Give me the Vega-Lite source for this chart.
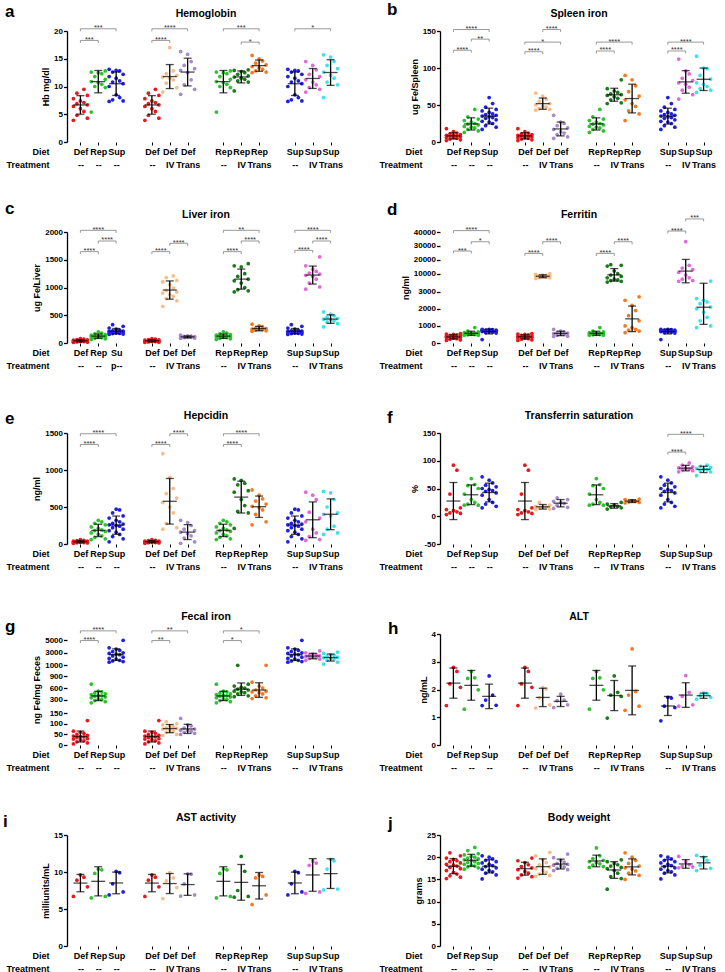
{
"$schema": "https://vega.github.io/schema/vega-lite/v6.json",
"padding": {"left": 3, "top": 0, "right": 0, "bottom": 0},
"background": "white",
"datasets": {
"pts": [
{"p":"a","g":"Def--","v":9.5},{"p":"a","g":"Def--","v":8.8},{"p":"a","g":"Def--","v":8.4},{"p":"a","g":"Def--","v":7.8},{"p":"a","g":"Def--","v":7.4},{"p":"a","g":"Def--","v":7.1},{"p":"a","g":"Def--","v":6.9},{"p":"a","g":"Def--","v":6.7},{"p":"a","g":"Def--","v":6.4},{"p":"a","g":"Def--","v":6.0},{"p":"a","g":"Def--","v":5.5},{"p":"a","g":"Def--","v":4.8},{"p":"a","g":"Def--","v":4.3},{"p":"a","g":"Def--","v":3.9},
{"p":"a","g":"Rep--","v":12.8},{"p":"a","g":"Rep--","v":12.6},{"p":"a","g":"Rep--","v":12.5},{"p":"a","g":"Rep--","v":12.3},{"p":"a","g":"Rep--","v":11.8},{"p":"a","g":"Rep--","v":11.3},{"p":"a","g":"Rep--","v":10.9},{"p":"a","g":"Rep--","v":10.7},{"p":"a","g":"Rep--","v":10.4},{"p":"a","g":"Rep--","v":10.0},{"p":"a","g":"Rep--","v":9.8},{"p":"a","g":"Rep--","v":5.4},
{"p":"a","g":"Sup--","v":13.1},{"p":"a","g":"Sup--","v":12.9},{"p":"a","g":"Sup--","v":12.8},{"p":"a","g":"Sup--","v":12.6},{"p":"a","g":"Sup--","v":12.2},{"p":"a","g":"Sup--","v":11.8},{"p":"a","g":"Sup--","v":11.5},{"p":"a","g":"Sup--","v":11.0},{"p":"a","g":"Sup--","v":10.8},{"p":"a","g":"Sup--","v":10.5},{"p":"a","g":"Sup--","v":10.0},{"p":"a","g":"Sup--","v":8.5},{"p":"a","g":"Sup--","v":8.0},{"p":"a","g":"Sup--","v":7.6},{"p":"a","g":"Sup--","v":7.4},{"p":"a","g":"Sup--","v":7.3},
{"p":"a","g":"DefIV","v":17.0},{"p":"a","g":"DefIV","v":12.8},{"p":"a","g":"DefIV","v":12.3},{"p":"a","g":"DefIV","v":12.0},{"p":"a","g":"DefIV","v":11.7},{"p":"a","g":"DefIV","v":11.5},{"p":"a","g":"DefIV","v":11.2},{"p":"a","g":"DefIV","v":10.6},{"p":"a","g":"DefIV","v":9.8},{"p":"a","g":"DefIV","v":9.0},
{"p":"a","g":"DefTrans","v":16.3},{"p":"a","g":"DefTrans","v":15.8},{"p":"a","g":"DefTrans","v":14.5},{"p":"a","g":"DefTrans","v":13.8},{"p":"a","g":"DefTrans","v":13.2},{"p":"a","g":"DefTrans","v":12.9},{"p":"a","g":"DefTrans","v":12.5},{"p":"a","g":"DefTrans","v":11.2},{"p":"a","g":"DefTrans","v":10.3},{"p":"a","g":"DefTrans","v":9.5},{"p":"a","g":"DefTrans","v":8.6},
{"p":"a","g":"RepIV","v":13.0},{"p":"a","g":"RepIV","v":12.9},{"p":"a","g":"RepIV","v":12.7},{"p":"a","g":"RepIV","v":12.5},{"p":"a","g":"RepIV","v":12.2},{"p":"a","g":"RepIV","v":11.9},{"p":"a","g":"RepIV","v":11.7},{"p":"a","g":"RepIV","v":11.5},{"p":"a","g":"RepIV","v":11.3},{"p":"a","g":"RepIV","v":11.0},{"p":"a","g":"RepIV","v":10.8},{"p":"a","g":"RepIV","v":9.2},
{"p":"a","g":"RepTrans","v":15.6},{"p":"a","g":"RepTrans","v":15.0},{"p":"a","g":"RepTrans","v":14.6},{"p":"a","g":"RepTrans","v":14.2},{"p":"a","g":"RepTrans","v":13.9},{"p":"a","g":"RepTrans","v":13.6},{"p":"a","g":"RepTrans","v":13.4},{"p":"a","g":"RepTrans","v":13.1},{"p":"a","g":"RepTrans","v":12.8},{"p":"a","g":"RepTrans","v":12.6},{"p":"a","g":"RepTrans","v":12.5},
{"p":"a","g":"SupIV","v":14.5},{"p":"a","g":"SupIV","v":13.8},{"p":"a","g":"SupIV","v":13.0},{"p":"a","g":"SupIV","v":12.2},{"p":"a","g":"SupIV","v":11.8},{"p":"a","g":"SupIV","v":11.2},{"p":"a","g":"SupIV","v":10.8},{"p":"a","g":"SupIV","v":10.3},{"p":"a","g":"SupIV","v":9.8},{"p":"a","g":"SupIV","v":9.5},{"p":"a","g":"SupIV","v":9.0},
{"p":"a","g":"SupTrans","v":15.7},{"p":"a","g":"SupTrans","v":15.3},{"p":"a","g":"SupTrans","v":14.5},{"p":"a","g":"SupTrans","v":13.8},{"p":"a","g":"SupTrans","v":13.2},{"p":"a","g":"SupTrans","v":12.6},{"p":"a","g":"SupTrans","v":12.0},{"p":"a","g":"SupTrans","v":11.5},{"p":"a","g":"SupTrans","v":10.8},{"p":"a","g":"SupTrans","v":10.3},{"p":"a","g":"SupTrans","v":8.0},

{"p":"b","g":"Def--","v":18},{"p":"b","g":"Def--","v":14},{"p":"b","g":"Def--","v":12},{"p":"b","g":"Def--","v":11},{"p":"b","g":"Def--","v":10},{"p":"b","g":"Def--","v":9},{"p":"b","g":"Def--","v":9},{"p":"b","g":"Def--","v":8},{"p":"b","g":"Def--","v":8},{"p":"b","g":"Def--","v":7},{"p":"b","g":"Def--","v":6},{"p":"b","g":"Def--","v":6},{"p":"b","g":"Def--","v":5},{"p":"b","g":"Def--","v":4},{"p":"b","g":"Def--","v":3},{"p":"b","g":"Def--","v":2},
{"p":"b","g":"Rep--","v":44},{"p":"b","g":"Rep--","v":34},{"p":"b","g":"Rep--","v":31},{"p":"b","g":"Rep--","v":29},{"p":"b","g":"Rep--","v":27},{"p":"b","g":"Rep--","v":25},{"p":"b","g":"Rep--","v":24},{"p":"b","g":"Rep--","v":23},{"p":"b","g":"Rep--","v":21},{"p":"b","g":"Rep--","v":20},{"p":"b","g":"Rep--","v":19},{"p":"b","g":"Rep--","v":17},{"p":"b","g":"Rep--","v":15},{"p":"b","g":"Rep--","v":13},
{"p":"b","g":"Sup--","v":60},{"p":"b","g":"Sup--","v":52},{"p":"b","g":"Sup--","v":47},{"p":"b","g":"Sup--","v":44},{"p":"b","g":"Sup--","v":42},{"p":"b","g":"Sup--","v":40},{"p":"b","g":"Sup--","v":38},{"p":"b","g":"Sup--","v":37},{"p":"b","g":"Sup--","v":36},{"p":"b","g":"Sup--","v":35},{"p":"b","g":"Sup--","v":34},{"p":"b","g":"Sup--","v":33},{"p":"b","g":"Sup--","v":32},{"p":"b","g":"Sup--","v":30},{"p":"b","g":"Sup--","v":28},{"p":"b","g":"Sup--","v":27},{"p":"b","g":"Sup--","v":25},{"p":"b","g":"Sup--","v":22},{"p":"b","g":"Sup--","v":20},{"p":"b","g":"Sup--","v":17},
{"p":"b","g":"DefIV","v":66},{"p":"b","g":"DefIV","v":62},{"p":"b","g":"DefIV","v":58},{"p":"b","g":"DefIV","v":55},{"p":"b","g":"DefIV","v":52},{"p":"b","g":"DefIV","v":50},{"p":"b","g":"DefIV","v":48},{"p":"b","g":"DefIV","v":47},{"p":"b","g":"DefIV","v":45},{"p":"b","g":"DefIV","v":44},{"p":"b","g":"DefIV","v":43},
{"p":"b","g":"DefTrans","v":36},{"p":"b","g":"DefTrans","v":27},{"p":"b","g":"DefTrans","v":25},{"p":"b","g":"DefTrans","v":22},{"p":"b","g":"DefTrans","v":19},{"p":"b","g":"DefTrans","v":17},{"p":"b","g":"DefTrans","v":14},{"p":"b","g":"DefTrans","v":12},{"p":"b","g":"DefTrans","v":10},{"p":"b","g":"DefTrans","v":7},{"p":"b","g":"DefTrans","v":5},
{"p":"b","g":"RepIV","v":84},{"p":"b","g":"RepIV","v":72},{"p":"b","g":"RepIV","v":69},{"p":"b","g":"RepIV","v":67},{"p":"b","g":"RepIV","v":65},{"p":"b","g":"RepIV","v":64},{"p":"b","g":"RepIV","v":63},{"p":"b","g":"RepIV","v":61},{"p":"b","g":"RepIV","v":59},{"p":"b","g":"RepIV","v":57},{"p":"b","g":"RepIV","v":53},{"p":"b","g":"RepIV","v":52},
{"p":"b","g":"RepTrans","v":90},{"p":"b","g":"RepTrans","v":84},{"p":"b","g":"RepTrans","v":76},{"p":"b","g":"RepTrans","v":68},{"p":"b","g":"RepTrans","v":62},{"p":"b","g":"RepTrans","v":57},{"p":"b","g":"RepTrans","v":52},{"p":"b","g":"RepTrans","v":48},{"p":"b","g":"RepTrans","v":42},{"p":"b","g":"RepTrans","v":38},{"p":"b","g":"RepTrans","v":29},
{"p":"b","g":"SupIV","v":112},{"p":"b","g":"SupIV","v":96},{"p":"b","g":"SupIV","v":92},{"p":"b","g":"SupIV","v":86},{"p":"b","g":"SupIV","v":83},{"p":"b","g":"SupIV","v":80},{"p":"b","g":"SupIV","v":78},{"p":"b","g":"SupIV","v":74},{"p":"b","g":"SupIV","v":70},{"p":"b","g":"SupIV","v":64},{"p":"b","g":"SupIV","v":58},
{"p":"b","g":"SupTrans","v":116},{"p":"b","g":"SupTrans","v":100},{"p":"b","g":"SupTrans","v":99},{"p":"b","g":"SupTrans","v":90},{"p":"b","g":"SupTrans","v":85},{"p":"b","g":"SupTrans","v":80},{"p":"b","g":"SupTrans","v":78},{"p":"b","g":"SupTrans","v":75},{"p":"b","g":"SupTrans","v":72},{"p":"b","g":"SupTrans","v":70},{"p":"b","g":"SupTrans","v":67},

{"p":"c","g":"Def--","v":80},{"p":"c","g":"Def--","v":70},{"p":"c","g":"Def--","v":60},{"p":"c","g":"Def--","v":55},{"p":"c","g":"Def--","v":50},{"p":"c","g":"Def--","v":45},{"p":"c","g":"Def--","v":40},{"p":"c","g":"Def--","v":38},{"p":"c","g":"Def--","v":35},{"p":"c","g":"Def--","v":30},{"p":"c","g":"Def--","v":28},{"p":"c","g":"Def--","v":25},{"p":"c","g":"Def--","v":20},{"p":"c","g":"Def--","v":15},{"p":"c","g":"Def--","v":10},
{"p":"c","g":"Rep--","v":200},{"p":"c","g":"Rep--","v":180},{"p":"c","g":"Rep--","v":165},{"p":"c","g":"Rep--","v":150},{"p":"c","g":"Rep--","v":140},{"p":"c","g":"Rep--","v":130},{"p":"c","g":"Rep--","v":125},{"p":"c","g":"Rep--","v":120},{"p":"c","g":"Rep--","v":115},{"p":"c","g":"Rep--","v":110},{"p":"c","g":"Rep--","v":100},{"p":"c","g":"Rep--","v":95},{"p":"c","g":"Rep--","v":85},{"p":"c","g":"Rep--","v":75},{"p":"c","g":"Rep--","v":65},
{"p":"c","g":"Sup--","v":330},{"p":"c","g":"Sup--","v":300},{"p":"c","g":"Sup--","v":270},{"p":"c","g":"Sup--","v":250},{"p":"c","g":"Sup--","v":230},{"p":"c","g":"Sup--","v":220},{"p":"c","g":"Sup--","v":215},{"p":"c","g":"Sup--","v":210},{"p":"c","g":"Sup--","v":205},{"p":"c","g":"Sup--","v":200},{"p":"c","g":"Sup--","v":195},{"p":"c","g":"Sup--","v":190},{"p":"c","g":"Sup--","v":185},{"p":"c","g":"Sup--","v":180},{"p":"c","g":"Sup--","v":175},{"p":"c","g":"Sup--","v":170},{"p":"c","g":"Sup--","v":160},{"p":"c","g":"Sup--","v":155},
{"p":"c","g":"DefIV","v":1210},{"p":"c","g":"DefIV","v":1180},{"p":"c","g":"DefIV","v":1130},{"p":"c","g":"DefIV","v":1100},{"p":"c","g":"DefIV","v":1050},{"p":"c","g":"DefIV","v":990},{"p":"c","g":"DefIV","v":950},{"p":"c","g":"DefIV","v":920},{"p":"c","g":"DefIV","v":900},{"p":"c","g":"DefIV","v":870},{"p":"c","g":"DefIV","v":840},{"p":"c","g":"DefIV","v":800},{"p":"c","g":"DefIV","v":760},{"p":"c","g":"DefIV","v":660},
{"p":"c","g":"DefTrans","v":140},{"p":"c","g":"DefTrans","v":130},{"p":"c","g":"DefTrans","v":125},{"p":"c","g":"DefTrans","v":120},{"p":"c","g":"DefTrans","v":115},{"p":"c","g":"DefTrans","v":110},{"p":"c","g":"DefTrans","v":105},{"p":"c","g":"DefTrans","v":100},{"p":"c","g":"DefTrans","v":95},{"p":"c","g":"DefTrans","v":90},{"p":"c","g":"DefTrans","v":85},
{"p":"c","g":"RepIV","v":1430},{"p":"c","g":"RepIV","v":1390},{"p":"c","g":"RepIV","v":1370},{"p":"c","g":"RepIV","v":1250},{"p":"c","g":"RepIV","v":1200},{"p":"c","g":"RepIV","v":1150},{"p":"c","g":"RepIV","v":1120},{"p":"c","g":"RepIV","v":1080},{"p":"c","g":"RepIV","v":1000},{"p":"c","g":"RepIV","v":960},{"p":"c","g":"RepIV","v":940},{"p":"c","g":"RepIV","v":920},
{"p":"c","g":"RepTrans","v":340},{"p":"c","g":"RepTrans","v":310},{"p":"c","g":"RepTrans","v":290},{"p":"c","g":"RepTrans","v":270},{"p":"c","g":"RepTrans","v":260},{"p":"c","g":"RepTrans","v":250},{"p":"c","g":"RepTrans","v":245},{"p":"c","g":"RepTrans","v":240},{"p":"c","g":"RepTrans","v":230},{"p":"c","g":"RepTrans","v":220},{"p":"c","g":"RepTrans","v":210},
{"p":"c","g":"SupIV","v":1550},{"p":"c","g":"SupIV","v":1390},{"p":"c","g":"SupIV","v":1330},{"p":"c","g":"SupIV","v":1290},{"p":"c","g":"SupIV","v":1260},{"p":"c","g":"SupIV","v":1240},{"p":"c","g":"SupIV","v":1220},{"p":"c","g":"SupIV","v":1200},{"p":"c","g":"SupIV","v":1150},{"p":"c","g":"SupIV","v":1080},{"p":"c","g":"SupIV","v":1010},{"p":"c","g":"SupIV","v":970},
{"p":"c","g":"SupTrans","v":560},{"p":"c","g":"SupTrans","v":520},{"p":"c","g":"SupTrans","v":490},{"p":"c","g":"SupTrans","v":460},{"p":"c","g":"SupTrans","v":440},{"p":"c","g":"SupTrans","v":430},{"p":"c","g":"SupTrans","v":420},{"p":"c","g":"SupTrans","v":400},{"p":"c","g":"SupTrans","v":380},{"p":"c","g":"SupTrans","v":350},{"p":"c","g":"SupTrans","v":290},

{"p":"d","g":"Def--","v":550},{"p":"d","g":"Def--","v":520},{"p":"d","g":"Def--","v":500},{"p":"d","g":"Def--","v":470},{"p":"d","g":"Def--","v":450},{"p":"d","g":"Def--","v":420},{"p":"d","g":"Def--","v":400},{"p":"d","g":"Def--","v":380},{"p":"d","g":"Def--","v":370},{"p":"d","g":"Def--","v":350},{"p":"d","g":"Def--","v":330},{"p":"d","g":"Def--","v":300},{"p":"d","g":"Def--","v":280},{"p":"d","g":"Def--","v":250},{"p":"d","g":"Def--","v":220},{"p":"d","g":"Def--","v":180},{"p":"d","g":"Def--","v":150},
{"p":"d","g":"Rep--","v":900},{"p":"d","g":"Rep--","v":700},{"p":"d","g":"Rep--","v":650},{"p":"d","g":"Rep--","v":600},{"p":"d","g":"Rep--","v":580},{"p":"d","g":"Rep--","v":560},{"p":"d","g":"Rep--","v":550},{"p":"d","g":"Rep--","v":540},{"p":"d","g":"Rep--","v":520},{"p":"d","g":"Rep--","v":500},{"p":"d","g":"Rep--","v":490},{"p":"d","g":"Rep--","v":480},{"p":"d","g":"Rep--","v":460},{"p":"d","g":"Rep--","v":450},
{"p":"d","g":"Sup--","v":800},{"p":"d","g":"Sup--","v":790},{"p":"d","g":"Sup--","v":780},{"p":"d","g":"Sup--","v":760},{"p":"d","g":"Sup--","v":750},{"p":"d","g":"Sup--","v":740},{"p":"d","g":"Sup--","v":720},{"p":"d","g":"Sup--","v":700},{"p":"d","g":"Sup--","v":690},{"p":"d","g":"Sup--","v":680},{"p":"d","g":"Sup--","v":670},{"p":"d","g":"Sup--","v":650},{"p":"d","g":"Sup--","v":630},{"p":"d","g":"Sup--","v":600},{"p":"d","g":"Sup--","v":580},{"p":"d","g":"Sup--","v":200},
{"p":"d","g":"DefIV","v":10000},{"p":"d","g":"DefIV","v":9500},{"p":"d","g":"DefIV","v":9000},{"p":"d","g":"DefIV","v":8700},{"p":"d","g":"DefIV","v":8500},{"p":"d","g":"DefIV","v":8200},{"p":"d","g":"DefIV","v":8000},{"p":"d","g":"DefIV","v":7800},{"p":"d","g":"DefIV","v":7500},{"p":"d","g":"DefIV","v":7200},{"p":"d","g":"DefIV","v":7000},{"p":"d","g":"DefIV","v":6500},
{"p":"d","g":"DefTrans","v":800},{"p":"d","g":"DefTrans","v":700},{"p":"d","g":"DefTrans","v":650},{"p":"d","g":"DefTrans","v":620},{"p":"d","g":"DefTrans","v":580},{"p":"d","g":"DefTrans","v":550},{"p":"d","g":"DefTrans","v":520},{"p":"d","g":"DefTrans","v":500},{"p":"d","g":"DefTrans","v":450},{"p":"d","g":"DefTrans","v":400},{"p":"d","g":"DefTrans","v":380},
{"p":"d","g":"RepIV","v":16500},{"p":"d","g":"RepIV","v":16000},{"p":"d","g":"RepIV","v":15500},{"p":"d","g":"RepIV","v":12000},{"p":"d","g":"RepIV","v":10000},{"p":"d","g":"RepIV","v":9000},{"p":"d","g":"RepIV","v":8000},{"p":"d","g":"RepIV","v":7000},{"p":"d","g":"RepIV","v":6000},{"p":"d","g":"RepIV","v":5500},{"p":"d","g":"RepIV","v":5000},{"p":"d","g":"RepIV","v":4500},{"p":"d","g":"RepIV","v":4000},
{"p":"d","g":"RepTrans","v":2700},{"p":"d","g":"RepTrans","v":2500},{"p":"d","g":"RepTrans","v":2200},{"p":"d","g":"RepTrans","v":1900},{"p":"d","g":"RepTrans","v":1600},{"p":"d","g":"RepTrans","v":1300},{"p":"d","g":"RepTrans","v":1000},{"p":"d","g":"RepTrans","v":900},{"p":"d","g":"RepTrans","v":800},{"p":"d","g":"RepTrans","v":750},{"p":"d","g":"RepTrans","v":700},{"p":"d","g":"RepTrans","v":600},
{"p":"d","g":"SupIV","v":33000},{"p":"d","g":"SupIV","v":16000},{"p":"d","g":"SupIV","v":14000},{"p":"d","g":"SupIV","v":13000},{"p":"d","g":"SupIV","v":11000},{"p":"d","g":"SupIV","v":9000},{"p":"d","g":"SupIV","v":7000},{"p":"d","g":"SupIV","v":6000},{"p":"d","g":"SupIV","v":5000},{"p":"d","g":"SupIV","v":4500},
{"p":"d","g":"SupTrans","v":4700},{"p":"d","g":"SupTrans","v":2600},{"p":"d","g":"SupTrans","v":2500},{"p":"d","g":"SupTrans","v":2400},{"p":"d","g":"SupTrans","v":2300},{"p":"d","g":"SupTrans","v":2100},{"p":"d","g":"SupTrans","v":2000},{"p":"d","g":"SupTrans","v":1800},{"p":"d","g":"SupTrans","v":1500},{"p":"d","g":"SupTrans","v":1300},{"p":"d","g":"SupTrans","v":1000},{"p":"d","g":"SupTrans","v":900},

{"p":"e","g":"Def--","v":60},{"p":"e","g":"Def--","v":50},{"p":"e","g":"Def--","v":45},{"p":"e","g":"Def--","v":40},{"p":"e","g":"Def--","v":38},{"p":"e","g":"Def--","v":35},{"p":"e","g":"Def--","v":32},{"p":"e","g":"Def--","v":30},{"p":"e","g":"Def--","v":28},{"p":"e","g":"Def--","v":25},{"p":"e","g":"Def--","v":22},{"p":"e","g":"Def--","v":20},{"p":"e","g":"Def--","v":18},{"p":"e","g":"Def--","v":15},{"p":"e","g":"Def--","v":10},
{"p":"e","g":"Rep--","v":320},{"p":"e","g":"Rep--","v":300},{"p":"e","g":"Rep--","v":280},{"p":"e","g":"Rep--","v":260},{"p":"e","g":"Rep--","v":230},{"p":"e","g":"Rep--","v":210},{"p":"e","g":"Rep--","v":190},{"p":"e","g":"Rep--","v":180},{"p":"e","g":"Rep--","v":170},{"p":"e","g":"Rep--","v":150},{"p":"e","g":"Rep--","v":130},{"p":"e","g":"Rep--","v":110},{"p":"e","g":"Rep--","v":90},{"p":"e","g":"Rep--","v":70},{"p":"e","g":"Rep--","v":60},
{"p":"e","g":"Sup--","v":470},{"p":"e","g":"Sup--","v":460},{"p":"e","g":"Sup--","v":420},{"p":"e","g":"Sup--","v":380},{"p":"e","g":"Sup--","v":350},{"p":"e","g":"Sup--","v":320},{"p":"e","g":"Sup--","v":300},{"p":"e","g":"Sup--","v":280},{"p":"e","g":"Sup--","v":270},{"p":"e","g":"Sup--","v":260},{"p":"e","g":"Sup--","v":250},{"p":"e","g":"Sup--","v":240},{"p":"e","g":"Sup--","v":220},{"p":"e","g":"Sup--","v":200},{"p":"e","g":"Sup--","v":180},{"p":"e","g":"Sup--","v":160},{"p":"e","g":"Sup--","v":130},{"p":"e","g":"Sup--","v":100},{"p":"e","g":"Sup--","v":70},{"p":"e","g":"Sup--","v":30},
{"p":"e","g":"DefIV","v":1220},{"p":"e","g":"DefIV","v":900},{"p":"e","g":"DefIV","v":750},{"p":"e","g":"DefIV","v":680},{"p":"e","g":"DefIV","v":620},{"p":"e","g":"DefIV","v":560},{"p":"e","g":"DefIV","v":500},{"p":"e","g":"DefIV","v":420},{"p":"e","g":"DefIV","v":280},{"p":"e","g":"DefIV","v":220},{"p":"e","g":"DefIV","v":200},
{"p":"e","g":"DefTrans","v":320},{"p":"e","g":"DefTrans","v":290},{"p":"e","g":"DefTrans","v":250},{"p":"e","g":"DefTrans","v":200},{"p":"e","g":"DefTrans","v":180},{"p":"e","g":"DefTrans","v":160},{"p":"e","g":"DefTrans","v":140},{"p":"e","g":"DefTrans","v":110},{"p":"e","g":"DefTrans","v":80},{"p":"e","g":"DefTrans","v":30},{"p":"e","g":"DefTrans","v":10},
{"p":"e","g":"RepIV","v":880},{"p":"e","g":"RepIV","v":860},{"p":"e","g":"RepIV","v":820},{"p":"e","g":"RepIV","v":800},{"p":"e","g":"RepIV","v":720},{"p":"e","g":"RepIV","v":700},{"p":"e","g":"RepIV","v":600},{"p":"e","g":"RepIV","v":520},{"p":"e","g":"RepIV","v":440},{"p":"e","g":"RepIV","v":420},{"p":"e","g":"RepIV","v":210},
{"p":"e","g":"RepTrans","v":730},{"p":"e","g":"RepTrans","v":660},{"p":"e","g":"RepTrans","v":610},{"p":"e","g":"RepTrans","v":580},{"p":"e","g":"RepTrans","v":540},{"p":"e","g":"RepTrans","v":510},{"p":"e","g":"RepTrans","v":490},{"p":"e","g":"RepTrans","v":460},{"p":"e","g":"RepTrans","v":400},{"p":"e","g":"RepTrans","v":300},{"p":"e","g":"RepTrans","v":260},
{"p":"e","g":"SupIV","v":700},{"p":"e","g":"SupIV","v":660},{"p":"e","g":"SupIV","v":600},{"p":"e","g":"SupIV","v":430},{"p":"e","g":"SupIV","v":350},{"p":"e","g":"SupIV","v":300},{"p":"e","g":"SupIV","v":200},{"p":"e","g":"SupIV","v":150},{"p":"e","g":"SupIV","v":100},{"p":"e","g":"SupIV","v":60},{"p":"e","g":"SupIV","v":50},
{"p":"e","g":"SupTrans","v":710},{"p":"e","g":"SupTrans","v":690},{"p":"e","g":"SupTrans","v":600},{"p":"e","g":"SupTrans","v":500},{"p":"e","g":"SupTrans","v":420},{"p":"e","g":"SupTrans","v":400},{"p":"e","g":"SupTrans","v":380},{"p":"e","g":"SupTrans","v":240},{"p":"e","g":"SupTrans","v":200},{"p":"e","g":"SupTrans","v":150},{"p":"e","g":"SupTrans","v":130},

{"p":"f","g":"Def--","v":92},{"p":"f","g":"Def--","v":83},{"p":"f","g":"Def--","v":40},{"p":"f","g":"Def--","v":15},{"p":"f","g":"Def--","v":12},{"p":"f","g":"Def--","v":10},{"p":"f","g":"Def--","v":8},{"p":"f","g":"Def--","v":6},{"p":"f","g":"Def--","v":5},{"p":"f","g":"Def--","v":3},
{"p":"f","g":"Rep--","v":68},{"p":"f","g":"Rep--","v":57},{"p":"f","g":"Rep--","v":55},{"p":"f","g":"Rep--","v":50},{"p":"f","g":"Rep--","v":40},{"p":"f","g":"Rep--","v":30},{"p":"f","g":"Rep--","v":25},{"p":"f","g":"Rep--","v":22},{"p":"f","g":"Rep--","v":20},{"p":"f","g":"Rep--","v":20},
{"p":"f","g":"Sup--","v":71},{"p":"f","g":"Sup--","v":65},{"p":"f","g":"Sup--","v":60},{"p":"f","g":"Sup--","v":56},{"p":"f","g":"Sup--","v":53},{"p":"f","g":"Sup--","v":50},{"p":"f","g":"Sup--","v":48},{"p":"f","g":"Sup--","v":46},{"p":"f","g":"Sup--","v":45},{"p":"f","g":"Sup--","v":42},{"p":"f","g":"Sup--","v":38},{"p":"f","g":"Sup--","v":30},{"p":"f","g":"Sup--","v":25},{"p":"f","g":"Sup--","v":22},{"p":"f","g":"Sup--","v":18},{"p":"f","g":"Sup--","v":15},
{"p":"f","g":"DefIV","v":25},{"p":"f","g":"DefIV","v":20},{"p":"f","g":"DefIV","v":18},{"p":"f","g":"DefIV","v":17},{"p":"f","g":"DefIV","v":16},{"p":"f","g":"DefIV","v":15},{"p":"f","g":"DefIV","v":13},{"p":"f","g":"DefIV","v":12},
{"p":"f","g":"DefTrans","v":33},{"p":"f","g":"DefTrans","v":30},{"p":"f","g":"DefTrans","v":27},{"p":"f","g":"DefTrans","v":25},{"p":"f","g":"DefTrans","v":23},{"p":"f","g":"DefTrans","v":20},{"p":"f","g":"DefTrans","v":16},{"p":"f","g":"DefTrans","v":14},
{"p":"f","g":"RepIV","v":25},{"p":"f","g":"RepIV","v":22},{"p":"f","g":"RepIV","v":20},{"p":"f","g":"RepIV","v":18},{"p":"f","g":"RepIV","v":17},{"p":"f","g":"RepIV","v":15},{"p":"f","g":"RepIV","v":13},
{"p":"f","g":"RepTrans","v":31},{"p":"f","g":"RepTrans","v":30},{"p":"f","g":"RepTrans","v":28},{"p":"f","g":"RepTrans","v":27},{"p":"f","g":"RepTrans","v":26},{"p":"f","g":"RepTrans","v":25},{"p":"f","g":"RepTrans","v":24},
{"p":"f","g":"SupIV","v":96},{"p":"f","g":"SupIV","v":92},{"p":"f","g":"SupIV","v":89},{"p":"f","g":"SupIV","v":87},{"p":"f","g":"SupIV","v":86},{"p":"f","g":"SupIV","v":85},{"p":"f","g":"SupIV","v":84},{"p":"f","g":"SupIV","v":82},{"p":"f","g":"SupIV","v":80},
{"p":"f","g":"SupTrans","v":92},{"p":"f","g":"SupTrans","v":90},{"p":"f","g":"SupTrans","v":88},{"p":"f","g":"SupTrans","v":86},{"p":"f","g":"SupTrans","v":85},{"p":"f","g":"SupTrans","v":84},{"p":"f","g":"SupTrans","v":82},{"p":"f","g":"SupTrans","v":80},{"p":"f","g":"SupTrans","v":73},

{"p":"g","g":"Def--","v":115},{"p":"g","g":"Def--","v":65},{"p":"g","g":"Def--","v":60},{"p":"g","g":"Def--","v":55},{"p":"g","g":"Def--","v":50},{"p":"g","g":"Def--","v":45},{"p":"g","g":"Def--","v":42},{"p":"g","g":"Def--","v":40},{"p":"g","g":"Def--","v":38},{"p":"g","g":"Def--","v":35},{"p":"g","g":"Def--","v":30},{"p":"g","g":"Def--","v":28},{"p":"g","g":"Def--","v":25},{"p":"g","g":"Def--","v":20},{"p":"g","g":"Def--","v":15},{"p":"g","g":"Def--","v":10},{"p":"g","g":"Def--","v":5},
{"p":"g","g":"Rep--","v":700},{"p":"g","g":"Rep--","v":520},{"p":"g","g":"Rep--","v":500},{"p":"g","g":"Rep--","v":470},{"p":"g","g":"Rep--","v":450},{"p":"g","g":"Rep--","v":430},{"p":"g","g":"Rep--","v":410},{"p":"g","g":"Rep--","v":400},{"p":"g","g":"Rep--","v":390},{"p":"g","g":"Rep--","v":370},{"p":"g","g":"Rep--","v":350},{"p":"g","g":"Rep--","v":320},{"p":"g","g":"Rep--","v":300},{"p":"g","g":"Rep--","v":280},{"p":"g","g":"Rep--","v":250},{"p":"g","g":"Rep--","v":220},
{"p":"g","g":"Sup--","v":5000},{"p":"g","g":"Sup--","v":3800},{"p":"g","g":"Sup--","v":3600},{"p":"g","g":"Sup--","v":3400},{"p":"g","g":"Sup--","v":3200},{"p":"g","g":"Sup--","v":3000},{"p":"g","g":"Sup--","v":2900},{"p":"g","g":"Sup--","v":2800},{"p":"g","g":"Sup--","v":2700},{"p":"g","g":"Sup--","v":2500},{"p":"g","g":"Sup--","v":2300},{"p":"g","g":"Sup--","v":2100},{"p":"g","g":"Sup--","v":2000},{"p":"g","g":"Sup--","v":1800},{"p":"g","g":"Sup--","v":1700},{"p":"g","g":"Sup--","v":1600},{"p":"g","g":"Sup--","v":1500},
{"p":"g","g":"DefIV","v":110},{"p":"g","g":"DefIV","v":100},{"p":"g","g":"DefIV","v":95},{"p":"g","g":"DefIV","v":90},{"p":"g","g":"DefIV","v":85},{"p":"g","g":"DefIV","v":80},{"p":"g","g":"DefIV","v":78},{"p":"g","g":"DefIV","v":75},{"p":"g","g":"DefIV","v":70},{"p":"g","g":"DefIV","v":65},{"p":"g","g":"DefIV","v":60},{"p":"g","g":"DefIV","v":50},{"p":"g","g":"DefIV","v":45},
{"p":"g","g":"DefTrans","v":125},{"p":"g","g":"DefTrans","v":95},{"p":"g","g":"DefTrans","v":90},{"p":"g","g":"DefTrans","v":80},{"p":"g","g":"DefTrans","v":75},{"p":"g","g":"DefTrans","v":70},{"p":"g","g":"DefTrans","v":68},{"p":"g","g":"DefTrans","v":65},{"p":"g","g":"DefTrans","v":60},{"p":"g","g":"DefTrans","v":55},{"p":"g","g":"DefTrans","v":50},
{"p":"g","g":"RepIV","v":1000},{"p":"g","g":"RepIV","v":700},{"p":"g","g":"RepIV","v":650},{"p":"g","g":"RepIV","v":620},{"p":"g","g":"RepIV","v":600},{"p":"g","g":"RepIV","v":570},{"p":"g","g":"RepIV","v":550},{"p":"g","g":"RepIV","v":520},{"p":"g","g":"RepIV","v":500},{"p":"g","g":"RepIV","v":480},{"p":"g","g":"RepIV","v":450},{"p":"g","g":"RepIV","v":400},{"p":"g","g":"RepIV","v":380},
{"p":"g","g":"RepTrans","v":1000},{"p":"g","g":"RepTrans","v":750},{"p":"g","g":"RepTrans","v":650},{"p":"g","g":"RepTrans","v":600},{"p":"g","g":"RepTrans","v":550},{"p":"g","g":"RepTrans","v":520},{"p":"g","g":"RepTrans","v":500},{"p":"g","g":"RepTrans","v":480},{"p":"g","g":"RepTrans","v":450},{"p":"g","g":"RepTrans","v":400},{"p":"g","g":"RepTrans","v":350},{"p":"g","g":"RepTrans","v":330},
{"p":"g","g":"SupIV","v":3300},{"p":"g","g":"SupIV","v":3000},{"p":"g","g":"SupIV","v":2800},{"p":"g","g":"SupIV","v":2700},{"p":"g","g":"SupIV","v":2600},{"p":"g","g":"SupIV","v":2500},{"p":"g","g":"SupIV","v":2400},{"p":"g","g":"SupIV","v":2300},{"p":"g","g":"SupIV","v":2200},{"p":"g","g":"SupIV","v":2100},{"p":"g","g":"SupIV","v":2000},{"p":"g","g":"SupIV","v":1800},
{"p":"g","g":"SupTrans","v":3100},{"p":"g","g":"SupTrans","v":2900},{"p":"g","g":"SupTrans","v":2700},{"p":"g","g":"SupTrans","v":2600},{"p":"g","g":"SupTrans","v":2400},{"p":"g","g":"SupTrans","v":2300},{"p":"g","g":"SupTrans","v":2200},{"p":"g","g":"SupTrans","v":2100},{"p":"g","g":"SupTrans","v":2000},{"p":"g","g":"SupTrans","v":1800},{"p":"g","g":"SupTrans","v":1500},{"p":"g","g":"SupTrans","v":1200},

{"p":"h","g":"Def--","v":2.8},{"p":"h","g":"Def--","v":2.65},{"p":"h","g":"Def--","v":2.2},{"p":"h","g":"Def--","v":2.08},{"p":"h","g":"Def--","v":1.42},
{"p":"h","g":"Rep--","v":2.65},{"p":"h","g":"Rep--","v":2.42},{"p":"h","g":"Rep--","v":2.4},{"p":"h","g":"Rep--","v":1.99},{"p":"h","g":"Rep--","v":1.29},
{"p":"h","s":"A","g":"Sup--","v":2.49},{"p":"h","s":"A","g":"Sup--","v":1.8},{"p":"h","s":"A","g":"Sup--","v":1.62},{"p":"h","s":"A","g":"Sup--","v":1.43},{"p":"h","s":"A","g":"Sup--","v":1.42},
{"p":"h","s":"Sup","g":"Sup--","v":1.72},{"p":"h","s":"Sup","g":"Sup--","v":1.69},{"p":"h","s":"Sup","g":"Sup--","v":1.4},{"p":"h","s":"Sup","g":"Sup--","v":1.35},{"p":"h","s":"Sup","g":"Sup--","v":0.87},
{"p":"h","g":"DefIV","v":2.07},{"p":"h","g":"DefIV","v":2.02},{"p":"h","g":"DefIV","v":1.7},{"p":"h","g":"DefIV","v":1.45},{"p":"h","g":"DefIV","v":1.33},
{"p":"h","g":"DefTrans","v":1.83},{"p":"h","g":"DefTrans","v":1.62},{"p":"h","g":"DefTrans","v":1.6},{"p":"h","g":"DefTrans","v":1.45},{"p":"h","g":"DefTrans","v":1.35},
{"p":"h","g":"RepIV","v":2.49},{"p":"h","g":"RepIV","v":1.9},{"p":"h","g":"RepIV","v":1.8},{"p":"h","g":"RepIV","v":1.75},{"p":"h","g":"RepIV","v":0.97},
{"p":"h","g":"RepTrans","v":3.46},{"p":"h","g":"RepTrans","v":1.93},{"p":"h","g":"RepTrans","v":1.8},{"p":"h","g":"RepTrans","v":1.4},{"p":"h","g":"RepTrans","v":1.25},
{"p":"h","g":"SupIV","v":2.5},{"p":"h","g":"SupIV","v":1.9},{"p":"h","g":"SupIV","v":1.75},{"p":"h","g":"SupIV","v":1.45},{"p":"h","g":"SupIV","v":1.4},
{"p":"h","g":"SupTrans","v":1.88},{"p":"h","g":"SupTrans","v":1.85},{"p":"h","g":"SupTrans","v":1.78},{"p":"h","g":"SupTrans","v":1.72},{"p":"h","g":"SupTrans","v":1.65},

{"p":"i","g":"Def--","v":9.6},{"p":"i","g":"Def--","v":9.3},{"p":"i","g":"Def--","v":8.9},{"p":"i","g":"Def--","v":8.0},{"p":"i","g":"Def--","v":6.7},
{"p":"i","g":"Rep--","v":10.4},{"p":"i","g":"Rep--","v":10.3},{"p":"i","g":"Rep--","v":9.8},{"p":"i","g":"Rep--","v":6.7},{"p":"i","g":"Rep--","v":6.5},
{"p":"i","g":"Sup--","v":10.1},{"p":"i","g":"Sup--","v":9.9},{"p":"i","g":"Sup--","v":8.4},{"p":"i","g":"Sup--","v":7.3},{"p":"i","g":"Sup--","v":6.9},
{"p":"i","g":"DefIV","v":9.9},{"p":"i","g":"DefIV","v":9.2},{"p":"i","g":"DefIV","v":8.8},{"p":"i","g":"DefIV","v":7.9},{"p":"i","g":"DefIV","v":6.4},
{"p":"i","g":"DefTrans","v":9.75},{"p":"i","g":"DefTrans","v":9.7},{"p":"i","g":"DefTrans","v":8.4},{"p":"i","g":"DefTrans","v":6.9},{"p":"i","g":"DefTrans","v":6.75},
{"p":"i","g":"RepIV","v":12.1},{"p":"i","g":"RepIV","v":10.1},{"p":"i","g":"RepIV","v":7.5},{"p":"i","g":"RepIV","v":6.7},{"p":"i","g":"RepIV","v":6.6},
{"p":"i","g":"RepTrans","v":9.6},{"p":"i","g":"RepTrans","v":9.4},{"p":"i","g":"RepTrans","v":9.2},{"p":"i","g":"RepTrans","v":6.9},{"p":"i","g":"RepTrans","v":5.6},
{"p":"i","g":"SupIV","v":11.5},{"p":"i","g":"SupIV","v":11.2},{"p":"i","g":"SupIV","v":10.9},{"p":"i","g":"SupIV","v":7.3},{"p":"i","g":"SupIV","v":7.1},
{"p":"i","g":"SupTrans","v":11.7},{"p":"i","g":"SupTrans","v":11.5},{"p":"i","g":"SupTrans","v":10.4},{"p":"i","g":"SupTrans","v":7.7},{"p":"i","g":"SupTrans","v":7.6},

{"p":"j","s":"A","g":"Def--","v":21.0},{"p":"j","s":"A","g":"Def--","v":20.3},{"p":"j","s":"A","g":"Def--","v":19.8},{"p":"j","s":"A","g":"Def--","v":19.5},{"p":"j","s":"A","g":"Def--","v":19.2},{"p":"j","s":"A","g":"Def--","v":19.0},{"p":"j","s":"A","g":"Def--","v":18.7},{"p":"j","s":"A","g":"Def--","v":18.4},{"p":"j","s":"A","g":"Def--","v":18.2},{"p":"j","s":"A","g":"Def--","v":18.0},{"p":"j","s":"A","g":"Def--","v":17.7},{"p":"j","s":"A","g":"Def--","v":17.4},{"p":"j","s":"A","g":"Def--","v":17.0},{"p":"j","s":"A","g":"Def--","v":16.6},{"p":"j","s":"A","g":"Def--","v":16.2},{"p":"j","s":"A","g":"Def--","v":15.8},{"p":"j","s":"A","g":"Def--","v":15.5},{"p":"j","s":"A","g":"Def--","v":15.2},
{"p":"j","s":"Def","g":"Def--","v":19.8},{"p":"j","s":"Def","g":"Def--","v":19.2},{"p":"j","s":"Def","g":"Def--","v":18.8},{"p":"j","s":"Def","g":"Def--","v":18.3},{"p":"j","s":"Def","g":"Def--","v":17.9},{"p":"j","s":"Def","g":"Def--","v":17.6},{"p":"j","s":"Def","g":"Def--","v":17.2},{"p":"j","s":"Def","g":"Def--","v":16.8},{"p":"j","s":"Def","g":"Def--","v":16.4},{"p":"j","s":"Def","g":"Def--","v":16.0},{"p":"j","s":"Def","g":"Def--","v":15.6},{"p":"j","s":"Def","g":"Def--","v":15.3},
{"p":"j","s":"A","g":"Rep--","v":22.2},{"p":"j","s":"A","g":"Rep--","v":21.5},{"p":"j","s":"A","g":"Rep--","v":20.8},{"p":"j","s":"A","g":"Rep--","v":20.5},{"p":"j","s":"A","g":"Rep--","v":20.2},{"p":"j","s":"A","g":"Rep--","v":20.0},{"p":"j","s":"A","g":"Rep--","v":19.8},{"p":"j","s":"A","g":"Rep--","v":19.6},{"p":"j","s":"A","g":"Rep--","v":19.4},{"p":"j","s":"A","g":"Rep--","v":19.2},{"p":"j","s":"A","g":"Rep--","v":19.0},{"p":"j","s":"A","g":"Rep--","v":18.8},{"p":"j","s":"A","g":"Rep--","v":18.6},{"p":"j","s":"A","g":"Rep--","v":18.4},{"p":"j","s":"A","g":"Rep--","v":18.2},{"p":"j","s":"A","g":"Rep--","v":18.0},{"p":"j","s":"A","g":"Rep--","v":17.8},{"p":"j","s":"A","g":"Rep--","v":17.6},{"p":"j","s":"A","g":"Rep--","v":17.3},
{"p":"j","s":"Rep","g":"Rep--","v":22.1},{"p":"j","s":"Rep","g":"Rep--","v":20.3},{"p":"j","s":"Rep","g":"Rep--","v":19.7},{"p":"j","s":"Rep","g":"Rep--","v":19.3},{"p":"j","s":"Rep","g":"Rep--","v":19.0},{"p":"j","s":"Rep","g":"Rep--","v":18.8},{"p":"j","s":"Rep","g":"Rep--","v":18.5},{"p":"j","s":"Rep","g":"Rep--","v":18.2},{"p":"j","s":"Rep","g":"Rep--","v":17.9},{"p":"j","s":"Rep","g":"Rep--","v":17.7},
{"p":"j","g":"Sup--","v":20.3},{"p":"j","g":"Sup--","v":20.0},{"p":"j","g":"Sup--","v":19.6},{"p":"j","g":"Sup--","v":19.3},{"p":"j","g":"Sup--","v":19.0},{"p":"j","g":"Sup--","v":18.7},{"p":"j","g":"Sup--","v":18.4},{"p":"j","g":"Sup--","v":18.1},{"p":"j","g":"Sup--","v":17.9},{"p":"j","g":"Sup--","v":17.6},{"p":"j","g":"Sup--","v":17.3},{"p":"j","g":"Sup--","v":17.0},{"p":"j","g":"Sup--","v":16.7},{"p":"j","g":"Sup--","v":16.4},{"p":"j","g":"Sup--","v":16.0},{"p":"j","g":"Sup--","v":15.1},
{"p":"j","g":"DefIV","v":21.1},{"p":"j","g":"DefIV","v":20.3},{"p":"j","g":"DefIV","v":19.4},{"p":"j","g":"DefIV","v":18.8},{"p":"j","g":"DefIV","v":18.3},{"p":"j","g":"DefIV","v":17.8},{"p":"j","g":"DefIV","v":17.4},{"p":"j","g":"DefIV","v":17.0},{"p":"j","g":"DefIV","v":16.6},{"p":"j","g":"DefIV","v":16.2},{"p":"j","g":"DefIV","v":15.9},{"p":"j","g":"DefIV","v":15.7},
{"p":"j","g":"DefTrans","v":20.7},{"p":"j","g":"DefTrans","v":19.9},{"p":"j","g":"DefTrans","v":19.3},{"p":"j","g":"DefTrans","v":18.9},{"p":"j","g":"DefTrans","v":18.6},{"p":"j","g":"DefTrans","v":18.4},{"p":"j","g":"DefTrans","v":18.2},{"p":"j","g":"DefTrans","v":18.0},{"p":"j","g":"DefTrans","v":17.8},{"p":"j","g":"DefTrans","v":17.5},{"p":"j","g":"DefTrans","v":17.2},{"p":"j","g":"DefTrans","v":17.0},
{"p":"j","g":"RepIV","v":19.4},{"p":"j","g":"RepIV","v":19.0},{"p":"j","g":"RepIV","v":18.6},{"p":"j","g":"RepIV","v":18.3},{"p":"j","g":"RepIV","v":18.0},{"p":"j","g":"RepIV","v":17.7},{"p":"j","g":"RepIV","v":17.4},{"p":"j","g":"RepIV","v":17.0},{"p":"j","g":"RepIV","v":16.4},{"p":"j","g":"RepIV","v":15.6},{"p":"j","g":"RepIV","v":15.2},{"p":"j","g":"RepIV","v":12.8},
{"p":"j","g":"RepTrans","v":21.0},{"p":"j","g":"RepTrans","v":20.0},{"p":"j","g":"RepTrans","v":19.3},{"p":"j","g":"RepTrans","v":18.6},{"p":"j","g":"RepTrans","v":18.0},{"p":"j","g":"RepTrans","v":17.6},{"p":"j","g":"RepTrans","v":17.3},{"p":"j","g":"RepTrans","v":16.9},{"p":"j","g":"RepTrans","v":16.4},{"p":"j","g":"RepTrans","v":15.9},{"p":"j","g":"RepTrans","v":15.0},
{"p":"j","g":"SupIV","v":20.2},{"p":"j","g":"SupIV","v":19.0},{"p":"j","g":"SupIV","v":18.3},{"p":"j","g":"SupIV","v":18.0},{"p":"j","g":"SupIV","v":17.8},{"p":"j","g":"SupIV","v":17.6},
{"p":"j","g":"SupTrans","v":20.4},{"p":"j","g":"SupTrans","v":20.0},{"p":"j","g":"SupTrans","v":19.3},{"p":"j","g":"SupTrans","v":18.2},{"p":"j","g":"SupTrans","v":17.5},{"p":"j","g":"SupTrans","v":17.0}
],
"br": [
{"p":"a","s":"A","lo":"Def|--","hi":"Rep|--","v":18.3,"l":"***"},
{"p":"a","s":"A","lo":"Def|--","hi":"Sup|--","m":"Rep|--","v":20.4,"l":"***"},
{"p":"a","s":"Def","lo":"Def|--","hi":"Def|IV","v":18.3,"l":"****"},
{"p":"a","s":"Def","lo":"Def|--","hi":"Def|Trans","m":"Def|IV","v":20.4,"l":"****"},
{"p":"a","s":"Rep","lo":"Rep|--","hi":"Rep|Trans","m":"Rep|IV","v":20.4,"l":"***"},
{"p":"a","s":"Rep","lo":"Rep|IV","hi":"Rep|Trans","v":18.0,"l":"*"},
{"p":"a","s":"Sup","lo":"Sup|--","hi":"Sup|Trans","m":"Sup|IV","v":20.4,"l":"*"},
{"p":"b","s":"A","lo":"Def|--","hi":"Sup|--","m":"Rep|--","v":152,"l":"****"},
{"p":"b","s":"A","lo":"Rep|--","hi":"Sup|--","v":139,"l":"**"},
{"p":"b","s":"A","lo":"Def|--","hi":"Rep|--","v":124,"l":"****"},
{"p":"b","s":"Def","lo":"Def|IV","hi":"Def|Trans","v":152,"l":"****"},
{"p":"b","s":"Def","lo":"Def|--","hi":"Def|Trans","m":"Def|IV","v":135,"l":"*"},
{"p":"b","s":"Def","lo":"Def|--","hi":"Def|IV","v":122,"l":"****"},
{"p":"b","s":"Rep","lo":"Rep|--","hi":"Rep|Trans","m":"Rep|IV","v":135,"l":"****"},
{"p":"b","s":"Rep","lo":"Rep|--","hi":"Rep|IV","v":123,"l":"****"},
{"p":"b","s":"Sup","lo":"Sup|--","hi":"Sup|Trans","m":"Sup|IV","v":135,"l":"****"},
{"p":"b","s":"Sup","lo":"Sup|--","hi":"Sup|IV","v":123,"l":"****"},
{"p":"c","s":"A","lo":"Def|--","hi":"Sup|--","m":"Rep|--","v":2030,"l":"****"},
{"p":"c","s":"A","lo":"Rep|--","hi":"Sup|--","v":1838,"l":"****"},
{"p":"c","s":"A","lo":"Def|--","hi":"Rep|--","v":1646,"l":"****"},
{"p":"c","s":"Def","lo":"Def|IV","hi":"Def|Trans","v":1796,"l":"****"},
{"p":"c","s":"Def","lo":"Def|--","hi":"Def|IV","v":1646,"l":"****"},
{"p":"c","s":"Rep","lo":"Rep|--","hi":"Rep|Trans","m":"Rep|IV","v":2030,"l":"**"},
{"p":"c","s":"Rep","lo":"Rep|IV","hi":"Rep|Trans","v":1838,"l":"****"},
{"p":"c","s":"Rep","lo":"Rep|--","hi":"Rep|IV","v":1646,"l":"****"},
{"p":"c","s":"Sup","lo":"Sup|--","hi":"Sup|Trans","m":"Sup|IV","v":2030,"l":"****"},
{"p":"c","s":"Sup","lo":"Sup|IV","hi":"Sup|Trans","v":1838,"l":"****"},
{"p":"c","s":"Sup","lo":"Sup|--","hi":"Sup|IV","v":1670,"l":"****"},
{"p":"d","s":"A","lo":"Def|--","hi":"Sup|--","m":"Rep|--","v":41000,"l":"****"},
{"p":"d","s":"A","lo":"Rep|--","hi":"Sup|--","v":33000,"l":"*"},
{"p":"d","s":"A","lo":"Def|--","hi":"Rep|--","v":26300,"l":"***"},
{"p":"d","s":"Def","lo":"Def|IV","hi":"Def|Trans","v":33000,"l":"****"},
{"p":"d","s":"Def","lo":"Def|--","hi":"Def|IV","v":24600,"l":"****"},
{"p":"d","s":"Rep","lo":"Rep|IV","hi":"Rep|Trans","v":33000,"l":"****"},
{"p":"d","s":"Rep","lo":"Rep|--","hi":"Rep|IV","v":24600,"l":"****"},
{"p":"d","s":"Sup","lo":"Sup|--","hi":"Sup|IV","v":40700,"l":"****"},
{"p":"d","s":"Sup","lo":"Sup|IV","hi":"Sup|Trans","v":49400,"l":"***"},
{"p":"e","s":"A","lo":"Def|--","hi":"Sup|--","m":"Rep|--","v":1490,"l":"****"},
{"p":"e","s":"A","lo":"Def|--","hi":"Rep|--","v":1345,"l":"****"},
{"p":"e","s":"Def","lo":"Def|IV","hi":"Def|Trans","v":1490,"l":"****"},
{"p":"e","s":"Def","lo":"Def|--","hi":"Def|IV","v":1345,"l":"****"},
{"p":"e","s":"Rep","lo":"Rep|--","hi":"Rep|Trans","m":"Rep|IV","v":1490,"l":"****"},
{"p":"e","s":"Rep","lo":"Rep|--","hi":"Rep|IV","v":1345,"l":"****"},
{"p":"f","s":"Sup","lo":"Sup|--","hi":"Sup|Trans","m":"Sup|IV","v":147.6,"l":"****"},
{"p":"f","s":"Sup","lo":"Sup|--","hi":"Sup|IV","v":115.6,"l":"****"},
{"p":"g","s":"A","lo":"Def|--","hi":"Sup|--","m":"Rep|--","v":6500,"l":"****"},
{"p":"g","s":"A","lo":"Def|--","hi":"Rep|--","v":4950,"l":"****"},
{"p":"g","s":"Def","lo":"Def|--","hi":"Def|Trans","m":"Def|IV","v":6500,"l":"**"},
{"p":"g","s":"Def","lo":"Def|--","hi":"Def|IV","v":4950,"l":"**"},
{"p":"g","s":"Rep","lo":"Rep|--","hi":"Rep|Trans","m":"Rep|IV","v":6500,"l":"*"},
{"p":"g","s":"Rep","lo":"Rep|--","hi":"Rep|IV","v":4950,"l":"*"}
]
},
"bounds": "flush",
"columns": 2,
"spacing": {"row": 90, "column": 96},
"concat": [
{"width":277,"height":111,"title":{"text":"a","dx":-62,"offset":-12},"resolve":{"scale":{"x":"independent"},"axis":{"x":"independent"}},
"layer":[
{"encoding":{
"x":{"field":"xk","type":"nominal","scale":{"type":"point","domain":["A:Def|--","A:Rep|--","A:Sup|--","g1","Def:Def|--","Def:Def|IV","Def:Def|Trans","g2","Rep:Rep|--","Rep:Rep|IV","Rep:Rep|Trans","g3","Sup:Sup|--","Sup:Sup|IV","Sup:Sup|Trans"],"padding":0.75},"axis":{"title":["Diet","Treatment"],"labelExpr":"indexof(datum.value, ':') < 0 ? '' : split(split(datum.value, ':')[1], '|')","tickOpacity":{"condition":{"test":"indexof(datum.value, ':') < 0","value":0},"value":1}}},
"y":{"field":"v","type":"quantitative","scale":{"domain":[0,20],"nice":false},"axis":{"title":"Hb mg/dl","values":[0,5,10,15,20],"format":"d"}}},
"layer":[
{"data":{"name":"pts"},"transform":[{"filter":"datum.p == 'a'"},{"calculate":"slice(datum.g, 0, 3)","as":"d"},{"calculate":"slice(datum.g, 3)","as":"t"},{"calculate":"datum.s ? [datum.s] : (datum.t == '--' ? ['A', datum.d] : [datum.d])","as":"ss"},{"flatten":["ss"]},{"calculate":"datum.ss + ':' + datum.d + '|' + datum.t","as":"xk"},{"window":[{"op":"row_number","as":"rk"}],"groupby":["xk"],"sort":[{"field":"v"}]},{"calculate":"[0, -1, 1, -0.5, 0.5][datum.rk % 5]","as":"jit"}],
"layer":[
{"transform":[{"aggregate":[{"op":"count","as":"c"}],"groupby":["ss"]},{"calculate":"datum.ss == 'A' ? 'A:Def|--' : datum.ss + ':' + datum.ss + '|--'","as":"xk"},{"calculate":"datum.ss == 'A' ? 'A:Sup|--' : datum.ss + ':' + datum.ss + '|Trans'","as":"xk2"}],"mark":{"type":"rule","color":"black","strokeWidth":1.3,"xOffset":-13.4,"x2Offset":13.4},"encoding":{"x2":{"field":"xk2"},"y":{"datum":0}}},
{"mark":{"type":"circle","size":14,"opacity":1},"encoding":{"xOffset":{"field":"jit","type":"quantitative","scale":{"domain":[-1,1],"range":[-7,7]}},"color":{"field":"g","type":"nominal","legend":null,"scale":{"domain":["Def--","Rep--","Sup--","DefIV","DefTrans","RepIV","RepTrans","SupIV","SupTrans"],"range":["#E6191F","#2FC12F","#1F1FE0","#F4BE8A","#A58BC7","#1C7A1C","#F47A20","#E26AD8","#3BE4EA"]}}}},
{"mark":{"type":"errorbar","extent":"stdev","color":"black","thickness":1.3,"size":8,"ticks":true},"encoding":{}},
{"transform":[{"aggregate":[{"op":"mean","field":"v","as":"v"}],"groupby":["xk"]}],"mark":{"type":"tick","color":"black","thickness":1.3,"size":14},"encoding":{}}
]},
{"data":{"name":"br"},"transform":[{"filter":"datum.p == 'a'"},{"calculate":"datum.s + ':' + datum.lo","as":"xk"},{"calculate":"datum.s + ':' + datum.hi","as":"xk2"}],
"layer":[
{"mark":{"type":"rule","color":"#808080","strokeWidth":0.8},"encoding":{"x2":{"field":"xk2"}}},
{"transform":[{"fold":["xk","xk2"],"as":["w","xe"]},{"calculate":"datum.xe","as":"xk"}],"mark":{"type":"rule","color":"#808080","strokeWidth":0.8,"y2Offset":2.5},"encoding":{"y2":{"field":"v"}}},
{"transform":[{"filter":"datum.m"},{"calculate":"datum.s + ':' + datum.m","as":"xk"}],"mark":{"type":"text","fontSize":7.5,"baseline":"alphabetic","dy":1.5,"color":"#333"},"encoding":{"text":{"field":"l"}}},
{"transform":[{"filter":"!datum.m"}],"mark":{"type":"text","fontSize":7.5,"baseline":"alphabetic","dy":1.5,"dx":8.9,"color":"#333"},"encoding":{"text":{"field":"l"}}}
]}
]},
{"data":{"name":"pts"},"transform":[{"filter":"datum.p == 'a'"},{"aggregate":[{"op":"count","as":"c"}]}],"mark":{"type":"rule","opacity":0},"encoding":{"x":{"field":"c","type":"nominal","axis":{"orient":"top","title":"Hemoglobin"}}}}
]},
{"width":277,"height":111,"title":{"text":"b","dx":-53,"offset":-10.3},"resolve":{"scale":{"x":"independent"},"axis":{"x":"independent"}},
"layer":[
{"encoding":{
"x":{"field":"xk","type":"nominal","scale":{"type":"point","domain":["A:Def|--","A:Rep|--","A:Sup|--","g1","Def:Def|--","Def:Def|IV","Def:Def|Trans","g2","Rep:Rep|--","Rep:Rep|IV","Rep:Rep|Trans","g3","Sup:Sup|--","Sup:Sup|IV","Sup:Sup|Trans"],"padding":0.75},"axis":{"title":["Diet","Treatment"],"labelExpr":"indexof(datum.value, ':') < 0 ? '' : split(split(datum.value, ':')[1], '|')","tickOpacity":{"condition":{"test":"indexof(datum.value, ':') < 0","value":0},"value":1}}},
"y":{"field":"v","type":"quantitative","scale":{"domain":[0,150],"nice":false},"axis":{"title":"ug Fe/Spleen","values":[0,50,100,150],"format":"d"}}},
"layer":[
{"data":{"name":"pts"},"transform":[{"filter":"datum.p == 'b'"},{"calculate":"slice(datum.g, 0, 3)","as":"d"},{"calculate":"slice(datum.g, 3)","as":"t"},{"calculate":"datum.s ? [datum.s] : (datum.t == '--' ? ['A', datum.d] : [datum.d])","as":"ss"},{"flatten":["ss"]},{"calculate":"datum.ss + ':' + datum.d + '|' + datum.t","as":"xk"},{"window":[{"op":"row_number","as":"rk"}],"groupby":["xk"],"sort":[{"field":"v"}]},{"calculate":"[0, -1, 1, -0.5, 0.5][datum.rk % 5]","as":"jit"}],
"layer":[
{"transform":[{"aggregate":[{"op":"count","as":"c"}],"groupby":["ss"]},{"calculate":"datum.ss == 'A' ? 'A:Def|--' : datum.ss + ':' + datum.ss + '|--'","as":"xk"},{"calculate":"datum.ss == 'A' ? 'A:Sup|--' : datum.ss + ':' + datum.ss + '|Trans'","as":"xk2"}],"mark":{"type":"rule","color":"black","strokeWidth":1.3,"xOffset":-13.4,"x2Offset":13.4},"encoding":{"x2":{"field":"xk2"},"y":{"datum":0}}},
{"mark":{"type":"circle","size":14,"opacity":1},"encoding":{"xOffset":{"field":"jit","type":"quantitative","scale":{"domain":[-1,1],"range":[-7,7]}},"color":{"field":"g","type":"nominal","legend":null,"scale":{"domain":["Def--","Rep--","Sup--","DefIV","DefTrans","RepIV","RepTrans","SupIV","SupTrans"],"range":["#E6191F","#2FC12F","#1F1FE0","#F4BE8A","#A58BC7","#1C7A1C","#F47A20","#E26AD8","#3BE4EA"]}}}},
{"mark":{"type":"errorbar","extent":"stdev","color":"black","thickness":1.3,"size":8,"ticks":true},"encoding":{}},
{"transform":[{"aggregate":[{"op":"mean","field":"v","as":"v"}],"groupby":["xk"]}],"mark":{"type":"tick","color":"black","thickness":1.3,"size":14},"encoding":{}}
]},
{"data":{"name":"br"},"transform":[{"filter":"datum.p == 'b'"},{"calculate":"datum.s + ':' + datum.lo","as":"xk"},{"calculate":"datum.s + ':' + datum.hi","as":"xk2"}],
"layer":[
{"mark":{"type":"rule","color":"#808080","strokeWidth":0.8},"encoding":{"x2":{"field":"xk2"}}},
{"transform":[{"fold":["xk","xk2"],"as":["w","xe"]},{"calculate":"datum.xe","as":"xk"}],"mark":{"type":"rule","color":"#808080","strokeWidth":0.8,"y2Offset":2.5},"encoding":{"y2":{"field":"v"}}},
{"transform":[{"filter":"datum.m"},{"calculate":"datum.s + ':' + datum.m","as":"xk"}],"mark":{"type":"text","fontSize":7.5,"baseline":"alphabetic","dy":1.5,"color":"#333"},"encoding":{"text":{"field":"l"}}},
{"transform":[{"filter":"!datum.m"}],"mark":{"type":"text","fontSize":7.5,"baseline":"alphabetic","dy":1.5,"dx":8.9,"color":"#333"},"encoding":{"text":{"field":"l"}}}
]}
]},
{"data":{"name":"pts"},"transform":[{"filter":"datum.p == 'b'"},{"aggregate":[{"op":"count","as":"c"}]}],"mark":{"type":"rule","opacity":0},"encoding":{"x":{"field":"c","type":"nominal","axis":{"orient":"top","title":"Spleen iron"}}}}
]},
{"width":277,"height":111,"title":{"text":"c","dx":-62,"offset":-8.3},"resolve":{"scale":{"x":"independent"},"axis":{"x":"independent"}},
"layer":[
{"encoding":{
"x":{"field":"xk","type":"nominal","scale":{"type":"point","domain":["A:Def|--","A:Rep|--","A:Sup|--","g1","Def:Def|--","Def:Def|IV","Def:Def|Trans","g2","Rep:Rep|--","Rep:Rep|IV","Rep:Rep|Trans","g3","Sup:Sup|--","Sup:Sup|IV","Sup:Sup|Trans"],"padding":0.75},"axis":{"title":["Diet","Treatment"],"labelExpr":"datum.value == 'A:Sup|--' ? ['Su', 'p--'] : indexof(datum.value, ':') < 0 ? '' : split(split(datum.value, ':')[1], '|')","tickOpacity":{"condition":{"test":"indexof(datum.value, ':') < 0","value":0},"value":1}}},
"y":{"field":"v","type":"quantitative","scale":{"domain":[0,2000],"nice":false},"axis":{"title":"ug Fe/Liver","values":[0,500,1000,1500,2000],"format":"d"}}},
"layer":[
{"data":{"name":"pts"},"transform":[{"filter":"datum.p == 'c'"},{"calculate":"slice(datum.g, 0, 3)","as":"d"},{"calculate":"slice(datum.g, 3)","as":"t"},{"calculate":"datum.s ? [datum.s] : (datum.t == '--' ? ['A', datum.d] : [datum.d])","as":"ss"},{"flatten":["ss"]},{"calculate":"datum.ss + ':' + datum.d + '|' + datum.t","as":"xk"},{"window":[{"op":"row_number","as":"rk"}],"groupby":["xk"],"sort":[{"field":"v"}]},{"calculate":"[0, -1, 1, -0.5, 0.5][datum.rk % 5]","as":"jit"}],
"layer":[
{"transform":[{"aggregate":[{"op":"count","as":"c"}],"groupby":["ss"]},{"calculate":"datum.ss == 'A' ? 'A:Def|--' : datum.ss + ':' + datum.ss + '|--'","as":"xk"},{"calculate":"datum.ss == 'A' ? 'A:Sup|--' : datum.ss + ':' + datum.ss + '|Trans'","as":"xk2"}],"mark":{"type":"rule","color":"black","strokeWidth":1.3,"xOffset":-13.4,"x2Offset":13.4},"encoding":{"x2":{"field":"xk2"},"y":{"datum":0}}},
{"mark":{"type":"circle","size":14,"opacity":1},"encoding":{"xOffset":{"field":"jit","type":"quantitative","scale":{"domain":[-1,1],"range":[-7,7]}},"color":{"field":"g","type":"nominal","legend":null,"scale":{"domain":["Def--","Rep--","Sup--","DefIV","DefTrans","RepIV","RepTrans","SupIV","SupTrans"],"range":["#E6191F","#2FC12F","#1F1FE0","#F4BE8A","#A58BC7","#1C7A1C","#F47A20","#E26AD8","#3BE4EA"]}}}},
{"mark":{"type":"errorbar","extent":"stdev","color":"black","thickness":1.3,"size":8,"ticks":true},"encoding":{}},
{"transform":[{"aggregate":[{"op":"mean","field":"v","as":"v"}],"groupby":["xk"]}],"mark":{"type":"tick","color":"black","thickness":1.3,"size":14},"encoding":{}}
]},
{"data":{"name":"br"},"transform":[{"filter":"datum.p == 'c'"},{"calculate":"datum.s + ':' + datum.lo","as":"xk"},{"calculate":"datum.s + ':' + datum.hi","as":"xk2"}],
"layer":[
{"mark":{"type":"rule","color":"#808080","strokeWidth":0.8},"encoding":{"x2":{"field":"xk2"}}},
{"transform":[{"fold":["xk","xk2"],"as":["w","xe"]},{"calculate":"datum.xe","as":"xk"}],"mark":{"type":"rule","color":"#808080","strokeWidth":0.8,"y2Offset":2.5},"encoding":{"y2":{"field":"v"}}},
{"transform":[{"filter":"datum.m"},{"calculate":"datum.s + ':' + datum.m","as":"xk"}],"mark":{"type":"text","fontSize":7.5,"baseline":"alphabetic","dy":1.5,"color":"#333"},"encoding":{"text":{"field":"l"}}},
{"transform":[{"filter":"!datum.m"}],"mark":{"type":"text","fontSize":7.5,"baseline":"alphabetic","dy":1.5,"dx":8.9,"color":"#333"},"encoding":{"text":{"field":"l"}}}
]}
]},
{"data":{"name":"pts"},"transform":[{"filter":"datum.p == 'c'"},{"aggregate":[{"op":"count","as":"c"}]}],"mark":{"type":"rule","opacity":0},"encoding":{"x":{"field":"c","type":"nominal","axis":{"orient":"top","title":"Liver iron"}}}}
]},
{"width":277,"height":111,"title":{"text":"d","dx":-53,"offset":-9},"resolve":{"scale":{"x":"independent"},"axis":{"x":"independent"}},
"layer":[
{"encoding":{
"x":{"field":"xk","type":"nominal","scale":{"type":"point","domain":["A:Def|--","A:Rep|--","A:Sup|--","g1","Def:Def|--","Def:Def|IV","Def:Def|Trans","g2","Rep:Rep|--","Rep:Rep|IV","Rep:Rep|Trans","g3","Sup:Sup|--","Sup:Sup|IV","Sup:Sup|Trans"],"padding":0.75},"axis":{"title":["Diet","Treatment"],"labelExpr":"indexof(datum.value, ':') < 0 ? '' : split(split(datum.value, ':')[1], '|')","tickOpacity":{"condition":{"test":"indexof(datum.value, ':') < 0","value":0},"value":1}}},
"y":{"field":"v","type":"quantitative","scale":{"domain":[0,3000,3001,40000],"range":[111,59.7,51.4,0],"nice":false},"axis":{"title":"ng/ml","values":[0,1000,2000,3000,10000,20000,30000,40000],"format":"d","domain":false}}},
"layer":[
{"data":{"name":"pts"},"transform":[{"filter":"datum.p == 'd'"},{"calculate":"slice(datum.g, 0, 3)","as":"d"},{"calculate":"slice(datum.g, 3)","as":"t"},{"calculate":"datum.s ? [datum.s] : (datum.t == '--' ? ['A', datum.d] : [datum.d])","as":"ss"},{"flatten":["ss"]},{"calculate":"datum.ss + ':' + datum.d + '|' + datum.t","as":"xk"},{"window":[{"op":"row_number","as":"rk"}],"groupby":["xk"],"sort":[{"field":"v"}]},{"calculate":"[0, -1, 1, -0.5, 0.5][datum.rk % 5]","as":"jit"}],
"layer":[
{"transform":[{"aggregate":[{"op":"count","as":"c"}],"groupby":["ss"]},{"calculate":"datum.ss == 'A' ? 'A:Def|--' : datum.ss + ':' + datum.ss + '|--'","as":"xk"},{"calculate":"datum.ss == 'A' ? 'A:Sup|--' : datum.ss + ':' + datum.ss + '|Trans'","as":"xk2"}],"mark":{"type":"rule","color":"black","strokeWidth":1.3,"xOffset":-13.4,"x2Offset":13.4},"encoding":{"x2":{"field":"xk2"},"y":{"datum":0}}},
{"transform":[{"aggregate":[{"op":"count","as":"c"}]}],"mark":{"type":"rule","color":"black","strokeWidth":1.3,"xOffset":-13.4},"encoding":{"x":{"datum":"A:Def|--"},"y":{"datum":0},"y2":{"datum":3230}}},
{"transform":[{"aggregate":[{"op":"count","as":"c"}]}],"mark":{"type":"rule","color":"black","strokeWidth":1.3,"xOffset":-13.4},"encoding":{"x":{"datum":"A:Def|--"},"y":{"datum":4200},"y2":{"datum":40000}}},
{"transform":[{"aggregate":[{"op":"count","as":"c"}]}],"mark":{"type":"rule","color":"black","strokeWidth":1,"xOffset":-16.4,"x2Offset":-10.4,"yOffset":1.5,"y2Offset":-1.5},"encoding":{"x":{"datum":"A:Def|--"},"x2":{"datum":"A:Def|--"},"y":{"datum":3230},"y2":{"datum":3230}}},
{"transform":[{"aggregate":[{"op":"count","as":"c"}]}],"mark":{"type":"rule","color":"black","strokeWidth":1,"xOffset":-16.4,"x2Offset":-10.4,"yOffset":1.5,"y2Offset":-1.5},"encoding":{"x":{"datum":"A:Def|--"},"x2":{"datum":"A:Def|--"},"y":{"datum":4200},"y2":{"datum":4200}}},
{"mark":{"type":"circle","size":14,"opacity":1},"encoding":{"xOffset":{"field":"jit","type":"quantitative","scale":{"domain":[-1,1],"range":[-7,7]}},"color":{"field":"g","type":"nominal","legend":null,"scale":{"domain":["Def--","Rep--","Sup--","DefIV","DefTrans","RepIV","RepTrans","SupIV","SupTrans"],"range":["#E6191F","#2FC12F","#1F1FE0","#F4BE8A","#A58BC7","#1C7A1C","#F47A20","#E26AD8","#3BE4EA"]}}}},
{"mark":{"type":"errorbar","extent":"stdev","color":"black","thickness":1.3,"size":8,"ticks":true},"encoding":{}},
{"transform":[{"aggregate":[{"op":"mean","field":"v","as":"v"}],"groupby":["xk"]}],"mark":{"type":"tick","color":"black","thickness":1.3,"size":14},"encoding":{}}
]},
{"data":{"name":"br"},"transform":[{"filter":"datum.p == 'd'"},{"calculate":"datum.s + ':' + datum.lo","as":"xk"},{"calculate":"datum.s + ':' + datum.hi","as":"xk2"}],
"layer":[
{"mark":{"type":"rule","color":"#808080","strokeWidth":0.8},"encoding":{"x2":{"field":"xk2"}}},
{"transform":[{"fold":["xk","xk2"],"as":["w","xe"]},{"calculate":"datum.xe","as":"xk"}],"mark":{"type":"rule","color":"#808080","strokeWidth":0.8,"y2Offset":2.5},"encoding":{"y2":{"field":"v"}}},
{"transform":[{"filter":"datum.m"},{"calculate":"datum.s + ':' + datum.m","as":"xk"}],"mark":{"type":"text","fontSize":7.5,"baseline":"alphabetic","dy":1.5,"color":"#333"},"encoding":{"text":{"field":"l"}}},
{"transform":[{"filter":"!datum.m"}],"mark":{"type":"text","fontSize":7.5,"baseline":"alphabetic","dy":1.5,"dx":8.9,"color":"#333"},"encoding":{"text":{"field":"l"}}}
]}
]},
{"data":{"name":"pts"},"transform":[{"filter":"datum.p == 'd'"},{"aggregate":[{"op":"count","as":"c"}]}],"mark":{"type":"rule","opacity":0},"encoding":{"x":{"field":"c","type":"nominal","axis":{"orient":"top","title":"Ferritin"}}}}
]},
{"width":277,"height":111,"title":{"text":"e","dx":-62,"offset":-17.6},"resolve":{"scale":{"x":"independent"},"axis":{"x":"independent"}},
"layer":[
{"encoding":{
"x":{"field":"xk","type":"nominal","scale":{"type":"point","domain":["A:Def|--","A:Rep|--","A:Sup|--","g1","Def:Def|--","Def:Def|IV","Def:Def|Trans","g2","Rep:Rep|--","Rep:Rep|IV","Rep:Rep|Trans","g3","Sup:Sup|--","Sup:Sup|IV","Sup:Sup|Trans"],"padding":0.75},"axis":{"title":["Diet","Treatment"],"labelExpr":"indexof(datum.value, ':') < 0 ? '' : split(split(datum.value, ':')[1], '|')","tickOpacity":{"condition":{"test":"indexof(datum.value, ':') < 0","value":0},"value":1}}},
"y":{"field":"v","type":"quantitative","scale":{"domain":[0,1500],"nice":false},"axis":{"title":"ng/ml","values":[0,500,1000,1500],"format":"d"}}},
"layer":[
{"data":{"name":"pts"},"transform":[{"filter":"datum.p == 'e'"},{"calculate":"slice(datum.g, 0, 3)","as":"d"},{"calculate":"slice(datum.g, 3)","as":"t"},{"calculate":"datum.s ? [datum.s] : (datum.t == '--' ? ['A', datum.d] : [datum.d])","as":"ss"},{"flatten":["ss"]},{"calculate":"datum.ss + ':' + datum.d + '|' + datum.t","as":"xk"},{"window":[{"op":"row_number","as":"rk"}],"groupby":["xk"],"sort":[{"field":"v"}]},{"calculate":"[0, -1, 1, -0.5, 0.5][datum.rk % 5]","as":"jit"}],
"layer":[
{"transform":[{"aggregate":[{"op":"count","as":"c"}],"groupby":["ss"]},{"calculate":"datum.ss == 'A' ? 'A:Def|--' : datum.ss + ':' + datum.ss + '|--'","as":"xk"},{"calculate":"datum.ss == 'A' ? 'A:Sup|--' : datum.ss + ':' + datum.ss + '|Trans'","as":"xk2"}],"mark":{"type":"rule","color":"black","strokeWidth":1.3,"xOffset":-13.4,"x2Offset":13.4},"encoding":{"x2":{"field":"xk2"},"y":{"datum":0}}},
{"mark":{"type":"circle","size":14,"opacity":1},"encoding":{"xOffset":{"field":"jit","type":"quantitative","scale":{"domain":[-1,1],"range":[-7,7]}},"color":{"field":"g","type":"nominal","legend":null,"scale":{"domain":["Def--","Rep--","Sup--","DefIV","DefTrans","RepIV","RepTrans","SupIV","SupTrans"],"range":["#E6191F","#2FC12F","#1F1FE0","#F4BE8A","#A58BC7","#1C7A1C","#F47A20","#E26AD8","#3BE4EA"]}}}},
{"mark":{"type":"errorbar","extent":"stdev","color":"black","thickness":1.3,"size":8,"ticks":true},"encoding":{}},
{"transform":[{"aggregate":[{"op":"mean","field":"v","as":"v"}],"groupby":["xk"]}],"mark":{"type":"tick","color":"black","thickness":1.3,"size":14},"encoding":{}}
]},
{"data":{"name":"br"},"transform":[{"filter":"datum.p == 'e'"},{"calculate":"datum.s + ':' + datum.lo","as":"xk"},{"calculate":"datum.s + ':' + datum.hi","as":"xk2"}],
"layer":[
{"mark":{"type":"rule","color":"#808080","strokeWidth":0.8},"encoding":{"x2":{"field":"xk2"}}},
{"transform":[{"fold":["xk","xk2"],"as":["w","xe"]},{"calculate":"datum.xe","as":"xk"}],"mark":{"type":"rule","color":"#808080","strokeWidth":0.8,"y2Offset":2.5},"encoding":{"y2":{"field":"v"}}},
{"transform":[{"filter":"datum.m"},{"calculate":"datum.s + ':' + datum.m","as":"xk"}],"mark":{"type":"text","fontSize":7.5,"baseline":"alphabetic","dy":1.5,"color":"#333"},"encoding":{"text":{"field":"l"}}},
{"transform":[{"filter":"!datum.m"}],"mark":{"type":"text","fontSize":7.5,"baseline":"alphabetic","dy":1.5,"dx":8.9,"color":"#333"},"encoding":{"text":{"field":"l"}}}
]}
]},
{"data":{"name":"pts"},"transform":[{"filter":"datum.p == 'e'"},{"aggregate":[{"op":"count","as":"c"}]}],"mark":{"type":"rule","opacity":0},"encoding":{"x":{"field":"c","type":"nominal","axis":{"orient":"top","title":"Hepcidin"}}}}
]},
{"width":277,"height":111,"title":{"text":"f","dx":-53,"offset":-16.6},"resolve":{"scale":{"x":"independent"},"axis":{"x":"independent"}},
"layer":[
{"encoding":{
"x":{"field":"xk","type":"nominal","scale":{"type":"point","domain":["A:Def|--","A:Rep|--","A:Sup|--","g1","Def:Def|--","Def:Def|IV","Def:Def|Trans","g2","Rep:Rep|--","Rep:Rep|IV","Rep:Rep|Trans","g3","Sup:Sup|--","Sup:Sup|IV","Sup:Sup|Trans"],"padding":0.75},"axis":{"title":["Diet","Treatment"],"labelExpr":"indexof(datum.value, ':') < 0 ? '' : split(split(datum.value, ':')[1], '|')","tickOpacity":{"condition":{"test":"indexof(datum.value, ':') < 0","value":0},"value":1}}},
"y":{"field":"v","type":"quantitative","scale":{"domain":[-50,150],"nice":false},"axis":{"title":"%","values":[-50,0,50,100,150],"labelExpr":"'' + datum.value"}}},
"layer":[
{"data":{"name":"pts"},"transform":[{"filter":"datum.p == 'f'"},{"calculate":"slice(datum.g, 0, 3)","as":"d"},{"calculate":"slice(datum.g, 3)","as":"t"},{"calculate":"datum.s ? [datum.s] : (datum.t == '--' ? ['A', datum.d] : [datum.d])","as":"ss"},{"flatten":["ss"]},{"calculate":"datum.ss + ':' + datum.d + '|' + datum.t","as":"xk"},{"window":[{"op":"row_number","as":"rk"}],"groupby":["xk"],"sort":[{"field":"v"}]},{"calculate":"[0, -1, 1, -0.5, 0.5][datum.rk % 5]","as":"jit"}],
"layer":[
{"transform":[{"aggregate":[{"op":"count","as":"c"}],"groupby":["ss"]},{"calculate":"datum.ss == 'A' ? 'A:Def|--' : datum.ss + ':' + datum.ss + '|--'","as":"xk"},{"calculate":"datum.ss == 'A' ? 'A:Sup|--' : datum.ss + ':' + datum.ss + '|Trans'","as":"xk2"}],"mark":{"type":"rule","color":"black","strokeWidth":1.3,"xOffset":-13.4,"x2Offset":13.4},"encoding":{"x2":{"field":"xk2"},"y":{"datum":-50}}},
{"mark":{"type":"circle","size":14,"opacity":1},"encoding":{"xOffset":{"field":"jit","type":"quantitative","scale":{"domain":[-1,1],"range":[-7,7]}},"color":{"field":"g","type":"nominal","legend":null,"scale":{"domain":["Def--","Rep--","Sup--","DefIV","DefTrans","RepIV","RepTrans","SupIV","SupTrans"],"range":["#E6191F","#2FC12F","#1F1FE0","#F4BE8A","#A58BC7","#F47A20","#1C7A1C","#E26AD8","#3BE4EA"]}}}},
{"mark":{"type":"errorbar","extent":"stdev","color":"black","thickness":1.3,"size":8,"ticks":true},"encoding":{}},
{"transform":[{"aggregate":[{"op":"mean","field":"v","as":"v"}],"groupby":["xk"]}],"mark":{"type":"tick","color":"black","thickness":1.3,"size":14},"encoding":{}}
]},
{"data":{"name":"br"},"transform":[{"filter":"datum.p == 'f'"},{"calculate":"datum.s + ':' + datum.lo","as":"xk"},{"calculate":"datum.s + ':' + datum.hi","as":"xk2"}],
"layer":[
{"mark":{"type":"rule","color":"#808080","strokeWidth":0.8},"encoding":{"x2":{"field":"xk2"}}},
{"transform":[{"fold":["xk","xk2"],"as":["w","xe"]},{"calculate":"datum.xe","as":"xk"}],"mark":{"type":"rule","color":"#808080","strokeWidth":0.8,"y2Offset":2.5},"encoding":{"y2":{"field":"v"}}},
{"transform":[{"filter":"datum.m"},{"calculate":"datum.s + ':' + datum.m","as":"xk"}],"mark":{"type":"text","fontSize":7.5,"baseline":"alphabetic","dy":1.5,"color":"#333"},"encoding":{"text":{"field":"l"}}},
{"transform":[{"filter":"!datum.m"}],"mark":{"type":"text","fontSize":7.5,"baseline":"alphabetic","dy":1.5,"dx":8.9,"color":"#333"},"encoding":{"text":{"field":"l"}}}
]}
]},
{"data":{"name":"pts"},"transform":[{"filter":"datum.p == 'f'"},{"aggregate":[{"op":"count","as":"c"}]}],"mark":{"type":"rule","opacity":0},"encoding":{"x":{"field":"c","type":"nominal","axis":{"orient":"top","title":"Transferrin saturation"}}}}
]},
{"width":277,"height":111,"title":{"text":"g","dx":-62,"offset":-24.3},"resolve":{"scale":{"x":"independent"},"axis":{"x":"independent"}},
"layer":[
{"encoding":{
"x":{"field":"xk","type":"nominal","scale":{"type":"point","domain":["A:Def|--","A:Rep|--","A:Sup|--","g1","Def:Def|--","Def:Def|IV","Def:Def|Trans","g2","Rep:Rep|--","Rep:Rep|IV","Rep:Rep|Trans","g3","Sup:Sup|--","Sup:Sup|IV","Sup:Sup|Trans"],"padding":0.75},"axis":{"title":["Diet","Treatment"],"labelExpr":"indexof(datum.value, ':') < 0 ? '' : split(split(datum.value, ':')[1], '|')","tickOpacity":{"condition":{"test":"indexof(datum.value, ':') < 0","value":0},"value":1}}},
"y":{"field":"v","type":"quantitative","scale":{"domain":[0,160,160.1,950,950.1,6000],"range":[111,77,71.2,40.4,31.6,0],"nice":false},"axis":{"title":"ng Fe/mg Feces","values":[0,50,100,150,300,600,900,1000,3000,5000],"format":"d","domain":false}}},
"layer":[
{"data":{"name":"pts"},"transform":[{"filter":"datum.p == 'g'"},{"calculate":"slice(datum.g, 0, 3)","as":"d"},{"calculate":"slice(datum.g, 3)","as":"t"},{"calculate":"datum.s ? [datum.s] : (datum.t == '--' ? ['A', datum.d] : [datum.d])","as":"ss"},{"flatten":["ss"]},{"calculate":"datum.ss + ':' + datum.d + '|' + datum.t","as":"xk"},{"window":[{"op":"row_number","as":"rk"}],"groupby":["xk"],"sort":[{"field":"v"}]},{"calculate":"[0, -1, 1, -0.5, 0.5][datum.rk % 5]","as":"jit"}],
"layer":[
{"transform":[{"aggregate":[{"op":"count","as":"c"}],"groupby":["ss"]},{"calculate":"datum.ss == 'A' ? 'A:Def|--' : datum.ss + ':' + datum.ss + '|--'","as":"xk"},{"calculate":"datum.ss == 'A' ? 'A:Sup|--' : datum.ss + ':' + datum.ss + '|Trans'","as":"xk2"}],"mark":{"type":"rule","color":"black","strokeWidth":1.3,"xOffset":-13.4,"x2Offset":13.4},"encoding":{"x2":{"field":"xk2"},"y":{"datum":0}}},
{"transform":[{"aggregate":[{"op":"count","as":"c"}]}],"mark":{"type":"rule","color":"black","strokeWidth":1.3,"xOffset":-13.4},"encoding":{"x":{"datum":"A:Def|--"},"y":{"datum":0},"y2":{"datum":155}}},
{"transform":[{"aggregate":[{"op":"count","as":"c"}]}],"mark":{"type":"rule","color":"black","strokeWidth":1.3,"xOffset":-13.4},"encoding":{"x":{"datum":"A:Def|--"},"y":{"datum":165},"y2":{"datum":940}}},
{"transform":[{"aggregate":[{"op":"count","as":"c"}]}],"mark":{"type":"rule","color":"black","strokeWidth":1.3,"xOffset":-13.4},"encoding":{"x":{"datum":"A:Def|--"},"y":{"datum":960},"y2":{"datum":6000}}},
{"transform":[{"aggregate":[{"op":"count","as":"c"}]}],"mark":{"type":"rule","color":"black","strokeWidth":1,"xOffset":-16.4,"x2Offset":-10.4,"yOffset":1.5,"y2Offset":-1.5},"encoding":{"x":{"datum":"A:Def|--"},"x2":{"datum":"A:Def|--"},"y":{"datum":155},"y2":{"datum":155}}},
{"transform":[{"aggregate":[{"op":"count","as":"c"}]}],"mark":{"type":"rule","color":"black","strokeWidth":1,"xOffset":-16.4,"x2Offset":-10.4,"yOffset":1.5,"y2Offset":-1.5},"encoding":{"x":{"datum":"A:Def|--"},"x2":{"datum":"A:Def|--"},"y":{"datum":165},"y2":{"datum":165}}},
{"transform":[{"aggregate":[{"op":"count","as":"c"}]}],"mark":{"type":"rule","color":"black","strokeWidth":1,"xOffset":-16.4,"x2Offset":-10.4,"yOffset":1.5,"y2Offset":-1.5},"encoding":{"x":{"datum":"A:Def|--"},"x2":{"datum":"A:Def|--"},"y":{"datum":940},"y2":{"datum":940}}},
{"transform":[{"aggregate":[{"op":"count","as":"c"}]}],"mark":{"type":"rule","color":"black","strokeWidth":1,"xOffset":-16.4,"x2Offset":-10.4,"yOffset":1.5,"y2Offset":-1.5},"encoding":{"x":{"datum":"A:Def|--"},"x2":{"datum":"A:Def|--"},"y":{"datum":960},"y2":{"datum":960}}},
{"mark":{"type":"circle","size":14,"opacity":1},"encoding":{"xOffset":{"field":"jit","type":"quantitative","scale":{"domain":[-1,1],"range":[-7,7]}},"color":{"field":"g","type":"nominal","legend":null,"scale":{"domain":["Def--","Rep--","Sup--","DefIV","DefTrans","RepIV","RepTrans","SupIV","SupTrans"],"range":["#E6191F","#2FC12F","#1F1FE0","#F4BE8A","#A58BC7","#1C7A1C","#F47A20","#E26AD8","#3BE4EA"]}}}},
{"mark":{"type":"errorbar","extent":"stdev","color":"black","thickness":1.3,"size":8,"ticks":true},"encoding":{}},
{"transform":[{"aggregate":[{"op":"mean","field":"v","as":"v"}],"groupby":["xk"]}],"mark":{"type":"tick","color":"black","thickness":1.3,"size":14},"encoding":{}}
]},
{"data":{"name":"br"},"transform":[{"filter":"datum.p == 'g'"},{"calculate":"datum.s + ':' + datum.lo","as":"xk"},{"calculate":"datum.s + ':' + datum.hi","as":"xk2"}],
"layer":[
{"mark":{"type":"rule","color":"#808080","strokeWidth":0.8},"encoding":{"x2":{"field":"xk2"}}},
{"transform":[{"fold":["xk","xk2"],"as":["w","xe"]},{"calculate":"datum.xe","as":"xk"}],"mark":{"type":"rule","color":"#808080","strokeWidth":0.8,"y2Offset":2.5},"encoding":{"y2":{"field":"v"}}},
{"transform":[{"filter":"datum.m"},{"calculate":"datum.s + ':' + datum.m","as":"xk"}],"mark":{"type":"text","fontSize":7.5,"baseline":"alphabetic","dy":1.5,"color":"#333"},"encoding":{"text":{"field":"l"}}},
{"transform":[{"filter":"!datum.m"}],"mark":{"type":"text","fontSize":7.5,"baseline":"alphabetic","dy":1.5,"dx":8.9,"color":"#333"},"encoding":{"text":{"field":"l"}}}
]}
]},
{"data":{"name":"pts"},"transform":[{"filter":"datum.p == 'g'"},{"aggregate":[{"op":"count","as":"c"}]}],"mark":{"type":"rule","opacity":0},"encoding":{"x":{"field":"c","type":"nominal","axis":{"orient":"top","title":"Fecal iron"}}}}
]},
{"width":277,"height":111,"title":{"text":"h","dx":-52,"offset":-26},"resolve":{"scale":{"x":"independent"},"axis":{"x":"independent"}},
"layer":[
{"encoding":{
"x":{"field":"xk","type":"nominal","scale":{"type":"point","domain":["A:Def|--","A:Rep|--","A:Sup|--","g1","Def:Def|--","Def:Def|IV","Def:Def|Trans","g2","Rep:Rep|--","Rep:Rep|IV","Rep:Rep|Trans","g3","Sup:Sup|--","Sup:Sup|IV","Sup:Sup|Trans"],"padding":0.75},"axis":{"title":["Diet","Treatment"],"labelExpr":"indexof(datum.value, ':') < 0 ? '' : split(split(datum.value, ':')[1], '|')","tickOpacity":{"condition":{"test":"indexof(datum.value, ':') < 0","value":0},"value":1}}},
"y":{"field":"v","type":"quantitative","scale":{"domain":[0,4],"nice":false},"axis":{"title":"ng/mL","values":[0,1,2,3,4],"format":"d"}}},
"layer":[
{"data":{"name":"pts"},"transform":[{"filter":"datum.p == 'h'"},{"calculate":"slice(datum.g, 0, 3)","as":"d"},{"calculate":"slice(datum.g, 3)","as":"t"},{"calculate":"datum.s ? [datum.s] : (datum.t == '--' ? ['A', datum.d] : [datum.d])","as":"ss"},{"flatten":["ss"]},{"calculate":"datum.ss + ':' + datum.d + '|' + datum.t","as":"xk"},{"window":[{"op":"row_number","as":"rk"}],"groupby":["xk"],"sort":[{"field":"v"}]},{"calculate":"[0, -1, 1, -0.5, 0.5][datum.rk % 5]","as":"jit"}],
"layer":[
{"transform":[{"aggregate":[{"op":"count","as":"c"}],"groupby":["ss"]},{"calculate":"datum.ss == 'A' ? 'A:Def|--' : datum.ss + ':' + datum.ss + '|--'","as":"xk"},{"calculate":"datum.ss == 'A' ? 'A:Sup|--' : datum.ss + ':' + datum.ss + '|Trans'","as":"xk2"}],"mark":{"type":"rule","color":"black","strokeWidth":1.3,"xOffset":-13.4,"x2Offset":13.4},"encoding":{"x2":{"field":"xk2"},"y":{"datum":0}}},
{"mark":{"type":"circle","size":14,"opacity":1},"encoding":{"xOffset":{"field":"jit","type":"quantitative","scale":{"domain":[-1,1],"range":[-7,7]}},"color":{"field":"g","type":"nominal","legend":null,"scale":{"domain":["Def--","Rep--","Sup--","DefIV","DefTrans","RepIV","RepTrans","SupIV","SupTrans"],"range":["#E6191F","#2FC12F","#1F1FE0","#F4BE8A","#A58BC7","#F47A20","#1C7A1C","#E26AD8","#3BE4EA"]}}}},
{"mark":{"type":"errorbar","extent":"stdev","color":"black","thickness":1.3,"size":8,"ticks":true},"encoding":{}},
{"transform":[{"aggregate":[{"op":"mean","field":"v","as":"v"}],"groupby":["xk"]}],"mark":{"type":"tick","color":"black","thickness":1.3,"size":14},"encoding":{}}
]}
]},
{"data":{"name":"pts"},"transform":[{"filter":"datum.p == 'h'"},{"aggregate":[{"op":"count","as":"c"}]}],"mark":{"type":"rule","opacity":0},"encoding":{"x":{"field":"c","type":"nominal","axis":{"orient":"top","title":"ALT"}}}}
]},
{"width":277,"height":111,"title":{"text":"i","dx":-64,"offset":-18},"resolve":{"scale":{"x":"independent"},"axis":{"x":"independent"}},
"layer":[
{"encoding":{
"x":{"field":"xk","type":"nominal","scale":{"type":"point","domain":["A:Def|--","A:Rep|--","A:Sup|--","g1","Def:Def|--","Def:Def|IV","Def:Def|Trans","g2","Rep:Rep|--","Rep:Rep|IV","Rep:Rep|Trans","g3","Sup:Sup|--","Sup:Sup|IV","Sup:Sup|Trans"],"padding":0.75},"axis":{"title":["Diet","Treatment"],"labelExpr":"indexof(datum.value, ':') < 0 ? '' : split(split(datum.value, ':')[1], '|')","tickOpacity":{"condition":{"test":"indexof(datum.value, ':') < 0","value":0},"value":1}}},
"y":{"field":"v","type":"quantitative","scale":{"domain":[0,15],"nice":false},"axis":{"title":"milliunits/mL","values":[0,5,10,15],"format":"d"}}},
"layer":[
{"data":{"name":"pts"},"transform":[{"filter":"datum.p == 'i'"},{"calculate":"slice(datum.g, 0, 3)","as":"d"},{"calculate":"slice(datum.g, 3)","as":"t"},{"calculate":"datum.s ? [datum.s] : (datum.t == '--' ? ['A', datum.d] : [datum.d])","as":"ss"},{"flatten":["ss"]},{"calculate":"datum.ss + ':' + datum.d + '|' + datum.t","as":"xk"},{"window":[{"op":"row_number","as":"rk"}],"groupby":["xk"],"sort":[{"field":"v"}]},{"calculate":"[0, -1, 1, -0.5, 0.5][datum.rk % 5]","as":"jit"}],
"layer":[
{"transform":[{"aggregate":[{"op":"count","as":"c"}],"groupby":["ss"]},{"calculate":"datum.ss == 'A' ? 'A:Def|--' : datum.ss + ':' + datum.ss + '|--'","as":"xk"},{"calculate":"datum.ss == 'A' ? 'A:Sup|--' : datum.ss + ':' + datum.ss + '|Trans'","as":"xk2"}],"mark":{"type":"rule","color":"black","strokeWidth":1.3,"xOffset":-13.4,"x2Offset":13.4},"encoding":{"x2":{"field":"xk2"},"y":{"datum":0}}},
{"mark":{"type":"circle","size":14,"opacity":1},"encoding":{"xOffset":{"field":"jit","type":"quantitative","scale":{"domain":[-1,1],"range":[-7,7]}},"color":{"field":"g","type":"nominal","legend":null,"scale":{"domain":["Def--","Rep--","Sup--","DefIV","DefTrans","RepIV","RepTrans","SupIV","SupTrans"],"range":["#E6191F","#2FC12F","#1F1FE0","#F4BE8A","#A58BC7","#F47A20","#1C7A1C","#E26AD8","#3BE4EA"]}}}},
{"mark":{"type":"errorbar","extent":"stdev","color":"black","thickness":1.3,"size":8,"ticks":true},"encoding":{}},
{"transform":[{"aggregate":[{"op":"mean","field":"v","as":"v"}],"groupby":["xk"]}],"mark":{"type":"tick","color":"black","thickness":1.3,"size":14},"encoding":{}}
]}
]},
{"data":{"name":"pts"},"transform":[{"filter":"datum.p == 'i'"},{"aggregate":[{"op":"count","as":"c"}]}],"mark":{"type":"rule","opacity":0},"encoding":{"x":{"field":"c","type":"nominal","axis":{"orient":"top","title":"AST activity"}}}}
]},
{"width":277,"height":111,"title":{"text":"j","dx":-52,"offset":-20.7},"resolve":{"scale":{"x":"independent"},"axis":{"x":"independent"}},
"layer":[
{"encoding":{
"x":{"field":"xk","type":"nominal","scale":{"type":"point","domain":["A:Def|--","A:Rep|--","A:Sup|--","g1","Def:Def|--","Def:Def|IV","Def:Def|Trans","g2","Rep:Rep|--","Rep:Rep|IV","Rep:Rep|Trans","g3","Sup:Sup|--","Sup:Sup|IV","Sup:Sup|Trans"],"padding":0.75},"axis":{"title":["Diet","Treatment"],"labelExpr":"indexof(datum.value, ':') < 0 ? '' : split(split(datum.value, ':')[1], '|')","tickOpacity":{"condition":{"test":"indexof(datum.value, ':') < 0","value":0},"value":1}}},
"y":{"field":"v","type":"quantitative","scale":{"domain":[0,25],"nice":false},"axis":{"title":"grams","values":[0,5,10,15,20,25],"format":"d"}}},
"layer":[
{"data":{"name":"pts"},"transform":[{"filter":"datum.p == 'j'"},{"calculate":"slice(datum.g, 0, 3)","as":"d"},{"calculate":"slice(datum.g, 3)","as":"t"},{"calculate":"datum.s ? [datum.s] : (datum.t == '--' ? ['A', datum.d] : [datum.d])","as":"ss"},{"flatten":["ss"]},{"calculate":"datum.ss + ':' + datum.d + '|' + datum.t","as":"xk"},{"window":[{"op":"row_number","as":"rk"}],"groupby":["xk"],"sort":[{"field":"v"}]},{"calculate":"[0, -1, 1, -0.5, 0.5][datum.rk % 5]","as":"jit"}],
"layer":[
{"transform":[{"aggregate":[{"op":"count","as":"c"}],"groupby":["ss"]},{"calculate":"datum.ss == 'A' ? 'A:Def|--' : datum.ss + ':' + datum.ss + '|--'","as":"xk"},{"calculate":"datum.ss == 'A' ? 'A:Sup|--' : datum.ss + ':' + datum.ss + '|Trans'","as":"xk2"}],"mark":{"type":"rule","color":"black","strokeWidth":1.3,"xOffset":-13.4,"x2Offset":13.4},"encoding":{"x2":{"field":"xk2"},"y":{"datum":0}}},
{"mark":{"type":"circle","size":14,"opacity":1},"encoding":{"xOffset":{"field":"jit","type":"quantitative","scale":{"domain":[-1,1],"range":[-7,7]}},"color":{"field":"g","type":"nominal","legend":null,"scale":{"domain":["Def--","Rep--","Sup--","DefIV","DefTrans","RepIV","RepTrans","SupIV","SupTrans"],"range":["#E6191F","#2FC12F","#1F1FE0","#F4BE8A","#A58BC7","#F47A20","#1C7A1C","#E26AD8","#3BE4EA"]}}}},
{"mark":{"type":"errorbar","extent":"stdev","color":"black","thickness":1.3,"size":8,"ticks":true},"encoding":{}},
{"transform":[{"aggregate":[{"op":"mean","field":"v","as":"v"}],"groupby":["xk"]}],"mark":{"type":"tick","color":"black","thickness":1.3,"size":14},"encoding":{}}
]}
]},
{"data":{"name":"pts"},"transform":[{"filter":"datum.p == 'j'"},{"aggregate":[{"op":"count","as":"c"}]}],"mark":{"type":"rule","opacity":0},"encoding":{"x":{"field":"c","type":"nominal","axis":{"orient":"top","title":"Body weight"}}}}
]}
],
"config": {
"font": "Liberation Sans",
"view": {"stroke": null},
"axis": {"grid": false, "domainColor": "black", "tickColor": "black", "labelColor": "black", "titleColor": "black", "labelFontWeight": "bold", "titleFontWeight": "bold", "labelFont": "Liberation Sans", "titleFont": "Liberation Sans"},
"axisLeft": {"domainWidth": 1.3, "tickWidth": 1.3, "tickSize": 3.5, "labelFontSize": 8, "labelPadding": 1, "titleFontSize": 9, "titlePadding": 3, "labelFlush": false},
"axisBottom": {"domain": false, "labelAngle": 0, "labelFontSize": 9, "labelLineHeight": 13, "labelOverlap": false, "labelPadding": 2, "tickSize": 3, "tickWidth": 1, "titleAlign": "right", "titleBaseline": "top", "titleLineHeight": 13, "titleFontSize": 9, "titleX": -18, "titleY": 5},
"axisTop": {"domain": false, "ticks": false, "labels": false, "titleFontSize": 10.5, "titleBaseline": "alphabetic", "titlePadding": 14.5, "minExtent": 0, "maxExtent": 0},
"title": {"anchor": "start", "frame": "group", "fontSize": 17, "fontWeight": "bold", "baseline": "alphabetic", "color": "black", "font": "Liberation Sans"}
}
}
